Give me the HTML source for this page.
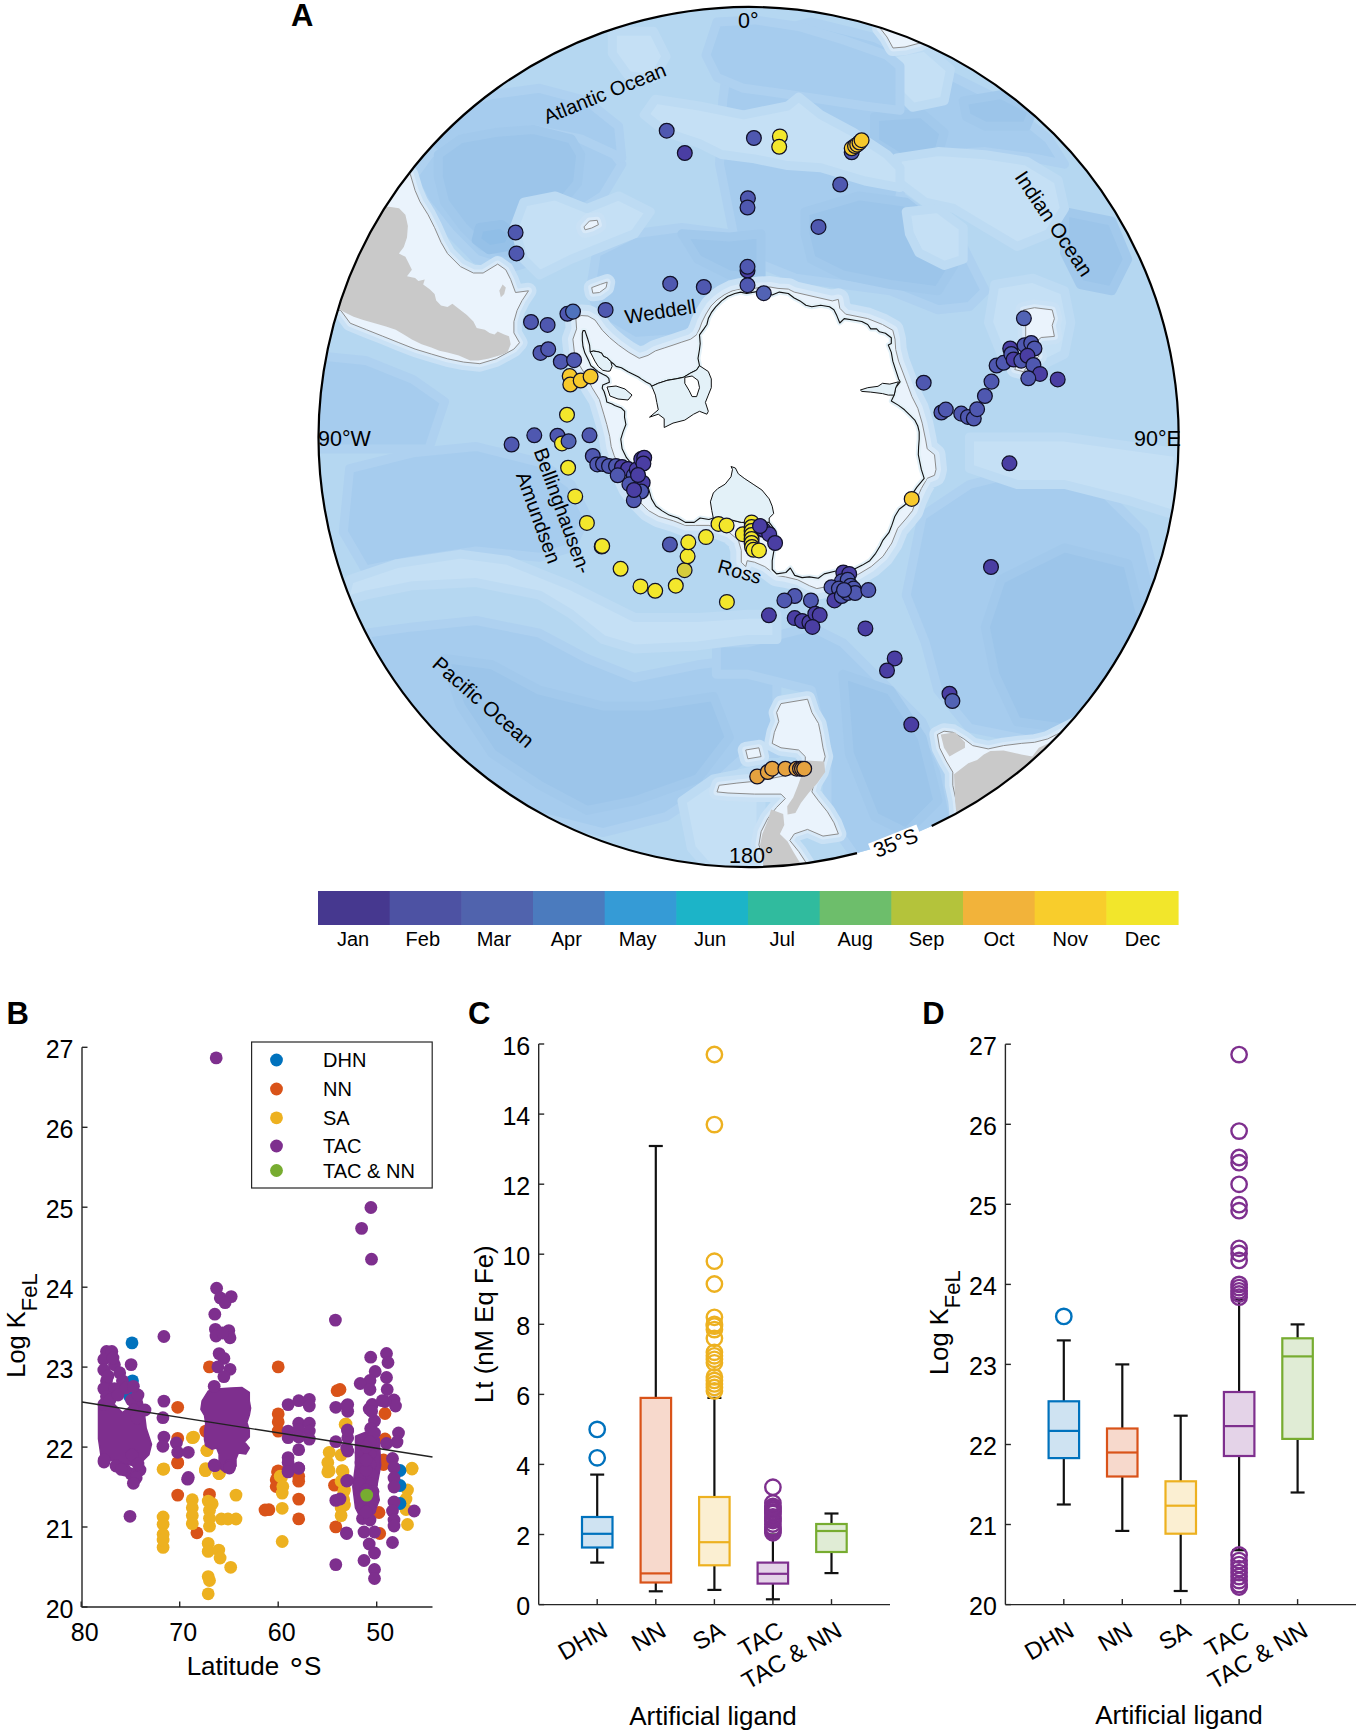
<!DOCTYPE html><html><head><meta charset="utf-8"><title>Figure</title><style>html,body{margin:0;padding:0;background:#fff;}svg{display:block;}text{font-family:'Liberation Sans', Arial, Helvetica, sans-serif;}</style></head><body>
<svg width="1359" height="1733" viewBox="0 0 1359 1733">
<rect width="1359" height="1733" fill="#fff"/>
<defs><clipPath id="mc"><circle cx="748.6" cy="437.0" r="430.0"/></clipPath></defs>
<g clip-path="url(#mc)">
<rect x="300" y="0" width="900" height="880" fill="#b5d7f1"/>
<path d="M412.9 176.9 L438.3 142.1 L476.2 126.3 L523.7 113.6 L571.2 119.9 L602.8 138.9 L621.8 164.2 L602.8 195.9 L577.5 211.7 L558.5 233.8 L539.5 259.2 L507.9 268.7 L476.2 259.2 L450.9 233.8 L425.6 202.2 Z" fill="#a6ccee" stroke="#aed1f0" stroke-width="9" stroke-linejoin="round"/>
<path d="M596.5 252.8 L634.5 233.8 L681.9 227.5 L729.4 233.8 L748.1 227.5 L761.0 227.5 L761.0 306.6 L713.6 316.1 L681.9 338.3 L634.5 341.4 L602.8 322.5 L590.2 290.8 Z" fill="#a6ccee" stroke="#aed1f0" stroke-width="9" stroke-linejoin="round"/>
<path d="M729.0 53.5 L748.0 37.6 L811.3 21.8 L874.6 37.6 L937.9 69.3 L1001.2 100.9 L1048.6 138.9 L1064.5 164.2 L1032.8 157.9 L985.3 151.6 L937.9 154.7 L906.2 170.6 L899.9 195.9 L922.1 211.7 L953.7 227.5 L969.5 259.2 L985.3 290.8 L969.5 306.6 L937.9 309.8 L890.4 290.8 L842.9 284.5 L795.5 278.2 L763.8 265.5 L735.3 243.3 L719.5 164.2 L722.7 100.9 Z" fill="#a6ccee" stroke="#aed1f0" stroke-width="9" stroke-linejoin="round"/>
<path d="M349.6 468.6 L412.9 452.8 L476.2 446.5 L539.5 462.3 L571.2 484.5 L587.0 516.1 L571.2 547.8 L539.5 557.3 L476.2 550.9 L412.9 560.4 L365.5 569.9 L343.3 531.9 Z" fill="#a6ccee" stroke="#aed1f0" stroke-width="9" stroke-linejoin="round"/>
<path d="M365.5 633.2 L412.9 626.9 L476.2 620.5 L539.5 633.2 L587.0 658.5 L634.5 677.5 L697.7 664.8 L748.1 658.5 L776.9 658.5 L776.9 753.5 L748.1 753.5 L713.6 785.1 L666.1 816.7 L602.8 832.6 L539.5 816.7 L476.2 785.1 L428.8 737.6 L387.6 690.2 Z" fill="#a6ccee" stroke="#aed1f0" stroke-width="9" stroke-linejoin="round"/>
<path d="M922.1 516.1 L969.5 484.5 L1032.8 468.6 L1096.1 484.5 L1143.6 531.9 L1159.4 595.2 L1143.6 674.3 L1096.1 721.8 L1032.8 740.8 L969.5 728.1 L937.9 690.2 L925.2 642.7 L906.2 595.2 Z" fill="#a6ccee" stroke="#aed1f0" stroke-width="9" stroke-linejoin="round"/>
<path d="M716.4 642.7 L748.0 642.7 L811.3 626.9 L842.9 642.7 L874.6 674.3 L922.1 721.8 L944.2 769.3 L953.7 816.7 L937.9 848.4 L858.8 861.1 L827.1 816.7 L827.1 753.5 L811.3 690.2 L748.0 674.3 L716.4 674.3 Z" fill="#a6ccee" stroke="#aed1f0" stroke-width="9" stroke-linejoin="round"/>
<path d="M412.9 138.9 L444.6 110.4 L492.1 94.6 L539.5 88.3 L587.0 100.9 L618.6 126.3 L621.8 157.9 L580.7 138.9 L533.2 129.4 L460.4 138.9 L438.3 154.7 Z" fill="#a6ccee" stroke="#aed1f0" stroke-width="9" stroke-linejoin="round"/>
<path d="M302.2 354.1 L365.5 360.4 L412.9 379.4 L444.6 401.6 L428.8 449.0 L302.2 449.0 Z" fill="#a6ccee" stroke="#aed1f0" stroke-width="9" stroke-linejoin="round"/>
<path d="M438.3 154.7 L460.4 138.9 L495.2 132.6 L533.2 129.4 L571.2 138.9 L580.7 154.7 L577.5 183.2 L561.7 202.2 L545.8 224.4 L533.2 246.5 L507.9 252.8 L482.6 246.5 L463.6 227.5 L444.6 202.2 L438.3 176.9 Z" fill="#9cc5ea" stroke="#a2c9ec" stroke-width="9" stroke-linejoin="round"/>
<path d="M681.9 233.8 L729.4 237.0 L761.0 233.8 L761.0 278.2 L729.4 275.0 L697.7 259.2 Z" fill="#9cc5ea" stroke="#a2c9ec" stroke-width="9" stroke-linejoin="round"/>
<path d="M805.0 211.7 L858.8 195.9 L906.2 202.2 L937.9 227.5 L953.7 265.5 L937.9 290.8 L890.4 284.5 L842.9 275.0 L811.3 259.2 L805.0 233.8 Z" fill="#9cc5ea" stroke="#a2c9ec" stroke-width="9" stroke-linejoin="round"/>
<path d="M874.6 116.8 L922.1 113.6 L944.2 132.6 L937.9 154.7 L899.9 157.9 L874.6 142.1 Z" fill="#9cc5ea" stroke="#a2c9ec" stroke-width="9" stroke-linejoin="round"/>
<path d="M963.2 100.9 L1001.2 94.6 L1032.8 110.4 L1026.5 126.3 L985.3 126.3 L966.4 116.8 Z" fill="#9cc5ea" stroke="#a2c9ec" stroke-width="9" stroke-linejoin="round"/>
<path d="M1064.5 211.7 L1111.9 221.2 L1127.7 259.2 L1111.9 290.8 L1080.3 284.5 L1064.5 252.8 Z" fill="#9cc5ea" stroke="#a2c9ec" stroke-width="9" stroke-linejoin="round"/>
<path d="M444.6 658.5 L492.1 664.8 L539.5 690.2 L602.8 706.0 L650.3 706.0 L713.6 696.5 L729.4 737.6 L697.7 778.8 L634.5 800.9 L587.0 810.4 L539.5 785.1 L492.1 753.5 L460.4 706.0 Z" fill="#9cc5ea" stroke="#a2c9ec" stroke-width="9" stroke-linejoin="round"/>
<path d="M1001.2 579.4 L1064.5 547.8 L1127.7 563.6 L1143.6 626.9 L1111.9 690.2 L1064.5 728.1 L1017.0 721.8 L994.8 674.3 L985.3 626.9 Z" fill="#9cc5ea" stroke="#a2c9ec" stroke-width="9" stroke-linejoin="round"/>
<path d="M842.9 674.3 L890.4 690.2 L922.1 737.6 L937.9 800.9 L906.2 832.6 L874.6 816.7 L849.3 753.5 Z" fill="#9cc5ea" stroke="#a2c9ec" stroke-width="9" stroke-linejoin="round"/>
<path d="M479.4 227.5 L501.5 224.4 L514.2 233.8 L507.9 246.5 L488.9 249.7 L476.2 240.2 Z" fill="#90bee7" stroke="#96c1e8" stroke-width="9" stroke-linejoin="round"/>
<path d="M523.7 202.2 L555.3 195.9 L587.0 208.5 L618.6 195.9 L650.3 211.7 L634.5 233.8 L602.8 246.5 L571.2 259.2 L539.5 275.0 L523.7 259.2 L514.2 227.5 Z" fill="#c5e0f5" stroke="#bddbf3" stroke-width="9" stroke-linejoin="round"/>
<path d="M612.3 31.3 L653.4 31.3 L666.1 56.6 L653.4 78.8 L628.1 75.6 L612.3 53.5 Z" fill="#c5e0f5" stroke="#bddbf3" stroke-width="9" stroke-linejoin="round"/>
<path d="M896.7 157.9 L937.9 151.6 L985.3 154.7 L1026.5 161.1 L1058.1 180.1 L1064.5 208.5 L1048.6 233.8 L1017.0 246.5 L985.3 227.5 L953.7 208.5 L925.2 202.2 L899.9 183.2 Z" fill="#c5e0f5" stroke="#bddbf3" stroke-width="9" stroke-linejoin="round"/>
<path d="M906.2 211.7 L937.9 208.5 L963.2 227.5 L963.2 259.2 L944.2 265.5 L918.9 252.8 L909.4 233.8 Z" fill="#c5e0f5" stroke="#bddbf3" stroke-width="9" stroke-linejoin="round"/>
<path d="M890.4 53.5 L925.2 47.1 L950.5 69.3 L944.2 100.9 L912.6 107.3 L893.6 88.3 Z" fill="#c5e0f5" stroke="#bddbf3" stroke-width="9" stroke-linejoin="round"/>
<path d="M994.8 284.5 L1032.8 278.2 L1064.5 290.8 L1070.8 322.5 L1064.5 354.1 L1032.8 369.9 L1001.2 354.1 L988.5 322.5 Z" fill="#c5e0f5" stroke="#bddbf3" stroke-width="9" stroke-linejoin="round"/>
<path d="M349.6 579.4 L397.1 563.6 L460.4 554.1 L507.9 560.4 L539.5 573.1 L571.2 585.7 L602.8 601.6 L634.5 617.4 L697.7 617.4 L748.1 614.2 L776.9 614.2 L776.9 639.5 L748.1 639.5 L697.7 645.9 L634.5 649.0 L602.8 639.5 L571.2 614.2 L539.5 595.2 L476.2 582.6 L412.9 585.7 L365.5 595.2 L343.3 601.6 Z" fill="#c5e0f5" stroke="#bddbf3" stroke-width="9" stroke-linejoin="round"/>
<path d="M969.5 437.0 L1064.5 437.0 L1178.1 452.8 L1178.1 516.1 L1127.7 500.3 L1064.5 484.5 L1017.0 484.5 L969.5 468.6 Z" fill="#c5e0f5" stroke="#bddbf3" stroke-width="9" stroke-linejoin="round"/>
<path d="M681.9 800.9 L713.6 778.8 L761.0 769.3 L761.0 880.0 L713.6 873.7 L691.4 848.4 Z" fill="#c5e0f5" stroke="#bddbf3" stroke-width="9" stroke-linejoin="round"/>
<path d="M717.0 22.0 L754.5 19.9 L798.7 26.5 L842.8 39.7 L887.0 55.2 L900.0 66.2 L900.0 110.4 L864.9 106.0 L820.8 99.3 L776.6 92.7 L743.5 88.3 L717.0 77.3 L706.0 55.2 Z" fill="#a6ccee" stroke="#aed1f0" stroke-width="9" stroke-linejoin="round"/>
<path d="M655.2 99.3 L699.3 106.0 L743.5 114.8 L787.6 106.0 L798.7 97.1 L820.8 114.8 L853.9 132.5 L887.0 154.5 L900.0 167.8 L900.0 187.6 L864.9 181.0 L820.8 167.8 L787.6 165.6 L754.5 158.9 L721.4 154.5 L699.3 143.5 L666.2 132.5 L644.2 114.8 Z" fill="#c5e0f5" stroke="#bddbf3" stroke-width="9" stroke-linejoin="round"/>
<path d="M408.0 172.0 L410.3 174.3 L415.1 190.5 L420.0 201.8 L428.1 214.8 L434.6 227.7 L441.0 242.3 L447.5 253.6 L460.5 266.6 L473.4 273.0 L483.1 273.0 L497.7 264.1 L505.8 269.8 L510.7 279.5 L515.5 292.5 L528.5 290.8 L522.0 300.6 L517.1 310.3 L513.9 321.6 L513.9 332.9 L519.5 342.7 L513.9 349.1 L496.1 358.8 L479.9 363.7 L463.7 362.1 L447.5 358.8 L431.3 354.0 L415.1 349.1 L398.9 342.7 L382.7 336.2 L366.4 329.7 L350.2 323.2 L340.7 310.3 L320.0 310.0 L300.0 320.0 L300.0 172.0 Z" fill="#eaf3fc" stroke="#c9e1f5" stroke-width="16" stroke-linejoin="round"/>
<path d="M408.0 172.0 L410.3 174.3 L415.1 190.5 L420.0 201.8 L428.1 214.8 L434.6 227.7 L441.0 242.3 L447.5 253.6 L460.5 266.6 L473.4 273.0 L483.1 273.0 L497.7 264.1 L505.8 269.8 L510.7 279.5 L515.5 292.5 L528.5 290.8 L522.0 300.6 L517.1 310.3 L513.9 321.6 L513.9 332.9 L519.5 342.7 L513.9 349.1 L496.1 358.8 L479.9 363.7 L463.7 362.1 L447.5 358.8 L431.3 354.0 L415.1 349.1 L398.9 342.7 L382.7 336.2 L366.4 329.7 L350.2 323.2 L340.7 310.3 L320.0 310.0 L300.0 320.0 L300.0 172.0 Z" fill="#eaf3fc" stroke="#d8e9f8" stroke-width="7" stroke-linejoin="round"/>
<path d="M781.0 703.6 L807.5 699.2 L811.9 712.5 L818.5 723.5 L820.8 734.5 L823.0 747.8 L825.2 756.6 L820.8 772.1 L814.1 783.1 L811.9 791.9 L818.5 800.8 L827.4 811.8 L834.0 822.8 L838.4 833.9 L823.0 836.1 L807.5 829.4 L794.3 833.9 L789.8 840.5 L798.7 851.5 L807.5 864.8 L811.9 889.1 L767.8 889.1 L763.4 858.1 L758.9 844.9 L761.1 831.7 L767.8 818.4 L776.6 807.4 L785.4 798.5 L781.0 794.1 L754.5 794.1 L728.0 793.0 L717.0 791.9 L719.2 785.3 L736.9 783.1 L758.9 780.9 L781.0 776.5 L794.3 774.3 L805.3 769.8 L805.3 756.6 L798.7 750.0 L781.0 747.8 L772.2 743.4 L774.4 732.3 L778.8 721.3 L776.6 712.5 Z" fill="#eaf3fc" stroke="#c9e1f5" stroke-width="16" stroke-linejoin="round"/>
<path d="M781.0 703.6 L807.5 699.2 L811.9 712.5 L818.5 723.5 L820.8 734.5 L823.0 747.8 L825.2 756.6 L820.8 772.1 L814.1 783.1 L811.9 791.9 L818.5 800.8 L827.4 811.8 L834.0 822.8 L838.4 833.9 L823.0 836.1 L807.5 829.4 L794.3 833.9 L789.8 840.5 L798.7 851.5 L807.5 864.8 L811.9 889.1 L767.8 889.1 L763.4 858.1 L758.9 844.9 L761.1 831.7 L767.8 818.4 L776.6 807.4 L785.4 798.5 L781.0 794.1 L754.5 794.1 L728.0 793.0 L717.0 791.9 L719.2 785.3 L736.9 783.1 L758.9 780.9 L781.0 776.5 L794.3 774.3 L805.3 769.8 L805.3 756.6 L798.7 750.0 L781.0 747.8 L772.2 743.4 L774.4 732.3 L778.8 721.3 L776.6 712.5 Z" fill="#eaf3fc" stroke="#d8e9f8" stroke-width="7" stroke-linejoin="round"/>
<path d="M745.7 750.0 L758.9 747.8 L761.1 756.6 L747.9 758.8 Z" fill="#eaf3fc" stroke="#c9e1f5" stroke-width="16" stroke-linejoin="round"/>
<path d="M745.7 750.0 L758.9 747.8 L761.1 756.6 L747.9 758.8 Z" fill="#eaf3fc" stroke="#d8e9f8" stroke-width="7" stroke-linejoin="round"/>
<path d="M937.4 734.5 L944.0 731.2 L952.8 732.3 L963.9 738.9 L972.7 745.6 L988.2 748.9 L1003.6 745.6 L1021.3 743.4 L1034.5 742.3 L1047.8 738.9 L1056.6 734.5 L1100.8 712.5 L1100.8 867.0 L957.3 867.0 L957.3 811.8 L956.2 800.8 L952.8 785.3 L952.8 772.1 L946.2 761.0 L939.6 747.8 Z" fill="#eaf3fc" stroke="#c9e1f5" stroke-width="16" stroke-linejoin="round"/>
<path d="M937.4 734.5 L944.0 731.2 L952.8 732.3 L963.9 738.9 L972.7 745.6 L988.2 748.9 L1003.6 745.6 L1021.3 743.4 L1034.5 742.3 L1047.8 738.9 L1056.6 734.5 L1100.8 712.5 L1100.8 867.0 L957.3 867.0 L957.3 811.8 L956.2 800.8 L952.8 785.3 L952.8 772.1 L946.2 761.0 L939.6 747.8 Z" fill="#eaf3fc" stroke="#d8e9f8" stroke-width="7" stroke-linejoin="round"/>
<path d="M880.0 28.0 L887.0 37.0 L893.0 48.0 L905.0 47.0 L920.0 43.0 L925.0 40.0 L925.0 20.0 L880.0 20.0 Z" fill="#eaf3fc" stroke="#c9e1f5" stroke-width="16" stroke-linejoin="round"/>
<path d="M880.0 28.0 L887.0 37.0 L893.0 48.0 L905.0 47.0 L920.0 43.0 L925.0 40.0 L925.0 20.0 L880.0 20.0 Z" fill="#eaf3fc" stroke="#d8e9f8" stroke-width="7" stroke-linejoin="round"/>
<path d="M1023.5 309.9 L1034.5 307.7 L1052.2 309.9 L1054.4 318.7 L1052.2 325.3 L1054.4 336.4 L1041.2 337.5 L1034.5 343.0 L1039.0 356.2 L1028.0 365.1 L1023.5 371.7 L1014.7 369.5 L1025.7 347.4 L1025.7 323.1 Z" fill="#eaf3fc" stroke="#c9e1f5" stroke-width="16" stroke-linejoin="round"/>
<path d="M1023.5 309.9 L1034.5 307.7 L1052.2 309.9 L1054.4 318.7 L1052.2 325.3 L1054.4 336.4 L1041.2 337.5 L1034.5 343.0 L1039.0 356.2 L1028.0 365.1 L1023.5 371.7 L1014.7 369.5 L1025.7 347.4 L1025.7 323.1 Z" fill="#eaf3fc" stroke="#d8e9f8" stroke-width="7" stroke-linejoin="round"/>
<path d="M584.0 226.9 L589.5 221.0 L597.2 220.3 L598.4 224.7 L591.7 228.0 L585.1 229.8 Z" fill="#eaf3fc" stroke="#c9e1f5" stroke-width="16" stroke-linejoin="round"/>
<path d="M584.0 226.9 L589.5 221.0 L597.2 220.3 L598.4 224.7 L591.7 228.0 L585.1 229.8 Z" fill="#eaf3fc" stroke="#d8e9f8" stroke-width="7" stroke-linejoin="round"/>
<path d="M591.7 287.6 L600.6 284.3 L607.2 282.1 L606.1 287.6 L599.5 292.5 L592.8 293.2 Z" fill="#eaf3fc" stroke="#c9e1f5" stroke-width="16" stroke-linejoin="round"/>
<path d="M591.7 287.6 L600.6 284.3 L607.2 282.1 L606.1 287.6 L599.5 292.5 L592.8 293.2 Z" fill="#eaf3fc" stroke="#d8e9f8" stroke-width="7" stroke-linejoin="round"/>
<path d="M408.0 172.0 L410.3 174.3 L415.1 190.5 L420.0 201.8 L428.1 214.8 L434.6 227.7 L441.0 242.3 L447.5 253.6 L460.5 266.6 L473.4 273.0 L483.1 273.0 L497.7 264.1 L505.8 269.8 L510.7 279.5 L515.5 292.5 L528.5 290.8 L522.0 300.6 L517.1 310.3 L513.9 321.6 L513.9 332.9 L519.5 342.7 L513.9 349.1 L496.1 358.8 L479.9 363.7 L463.7 362.1 L447.5 358.8 L431.3 354.0 L415.1 349.1 L398.9 342.7 L382.7 336.2 L366.4 329.7 L350.2 323.2 L340.7 310.3 L320.0 310.0 L300.0 320.0 L300.0 172.0 Z" fill="#eaf3fc" stroke="#8c8c8c" stroke-width="1"/>
<path d="M781.0 703.6 L807.5 699.2 L811.9 712.5 L818.5 723.5 L820.8 734.5 L823.0 747.8 L825.2 756.6 L820.8 772.1 L814.1 783.1 L811.9 791.9 L818.5 800.8 L827.4 811.8 L834.0 822.8 L838.4 833.9 L823.0 836.1 L807.5 829.4 L794.3 833.9 L789.8 840.5 L798.7 851.5 L807.5 864.8 L811.9 889.1 L767.8 889.1 L763.4 858.1 L758.9 844.9 L761.1 831.7 L767.8 818.4 L776.6 807.4 L785.4 798.5 L781.0 794.1 L754.5 794.1 L728.0 793.0 L717.0 791.9 L719.2 785.3 L736.9 783.1 L758.9 780.9 L781.0 776.5 L794.3 774.3 L805.3 769.8 L805.3 756.6 L798.7 750.0 L781.0 747.8 L772.2 743.4 L774.4 732.3 L778.8 721.3 L776.6 712.5 Z" fill="#eaf3fc" stroke="#8c8c8c" stroke-width="1"/>
<path d="M745.7 750.0 L758.9 747.8 L761.1 756.6 L747.9 758.8 Z" fill="#eaf3fc" stroke="#8c8c8c" stroke-width="1"/>
<path d="M937.4 734.5 L944.0 731.2 L952.8 732.3 L963.9 738.9 L972.7 745.6 L988.2 748.9 L1003.6 745.6 L1021.3 743.4 L1034.5 742.3 L1047.8 738.9 L1056.6 734.5 L1100.8 712.5 L1100.8 867.0 L957.3 867.0 L957.3 811.8 L956.2 800.8 L952.8 785.3 L952.8 772.1 L946.2 761.0 L939.6 747.8 Z" fill="#eaf3fc" stroke="#8c8c8c" stroke-width="1"/>
<path d="M880.0 28.0 L887.0 37.0 L893.0 48.0 L905.0 47.0 L920.0 43.0 L925.0 40.0 L925.0 20.0 L880.0 20.0 Z" fill="#eaf3fc" stroke="#8c8c8c" stroke-width="1"/>
<path d="M1023.5 309.9 L1034.5 307.7 L1052.2 309.9 L1054.4 318.7 L1052.2 325.3 L1054.4 336.4 L1041.2 337.5 L1034.5 343.0 L1039.0 356.2 L1028.0 365.1 L1023.5 371.7 L1014.7 369.5 L1025.7 347.4 L1025.7 323.1 Z" fill="#eaf3fc" stroke="#8c8c8c" stroke-width="1"/>
<path d="M584.0 226.9 L589.5 221.0 L597.2 220.3 L598.4 224.7 L591.7 228.0 L585.1 229.8 Z" fill="#eaf3fc" stroke="#8c8c8c" stroke-width="1"/>
<path d="M591.7 287.6 L600.6 284.3 L607.2 282.1 L606.1 287.6 L599.5 292.5 L592.8 293.2 Z" fill="#eaf3fc" stroke="#8c8c8c" stroke-width="1"/>
<path d="M389.2 206.7 L399.0 208.3 L405.4 214.8 L407.9 226.1 L407.0 237.4 L403.8 247.1 L398.9 253.6 L405.4 256.8 L408.7 263.3 L411.9 269.8 L407.0 276.3 L415.1 277.9 L418.4 281.1 L424.8 279.5 L423.2 284.4 L429.7 289.2 L434.6 294.1 L436.2 300.6 L441.0 305.4 L447.5 307.0 L452.4 303.8 L458.8 308.7 L466.9 315.1 L473.4 321.6 L476.7 328.1 L484.8 329.7 L489.6 333.0 L494.5 334.6 L497.7 331.4 L504.2 334.6 L509.0 336.2 L510.7 344.3 L507.4 352.4 L499.3 355.6 L488.0 358.8 L478.3 360.5 L470.2 360.5 L458.8 355.6 L447.5 352.4 L439.4 350.7 L431.3 347.5 L421.6 344.3 L411.9 339.4 L403.8 334.6 L395.7 329.7 L386.0 326.5 L374.7 323.2 L363.3 320.0 L353.6 316.8 L343.9 311.9 L339.0 308.7 L300.0 308.0 L300.0 206.0 Z" fill="#c9c9c9"/>
<path d="M499.3 290.8 L502.6 284.4 L505.8 287.6 L504.2 294.1 L500.9 297.3 Z" fill="#c9c9c9"/>
<path d="M805.3 760.6 L824.1 761.5 L825.2 772.1 L817.4 783.1 L808.6 793.0 L800.9 803.0 L795.4 812.9 L787.6 814.4 L787.2 806.3 L793.2 797.4 L797.6 786.4 L802.0 774.3 L804.2 766.5 Z" fill="#c9c9c9"/>
<path d="M771.1 809.6 L783.2 814.0 L784.3 825.0 L779.9 833.9 L787.6 841.6 L793.2 851.5 L799.8 862.6 L798.7 889.1 L767.8 889.1 L762.3 858.1 L760.0 844.9 L762.3 833.9 L767.8 820.6 Z" fill="#c9c9c9"/>
<path d="M940.7 734.5 L955.1 732.3 L965.0 742.3 L965.0 747.8 L955.1 753.3 L949.5 756.6 L944.0 747.8 Z" fill="#c9c9c9"/>
<path d="M954.0 774.3 L968.3 763.2 L977.1 759.9 L983.8 754.4 L990.4 751.1 L1003.6 750.4 L1021.3 754.4 L1032.3 756.6 L1038.9 747.8 L1067.6 734.5 L1100.8 734.5 L1100.8 867.0 L958.4 867.0 L956.2 811.8 L955.1 800.8 Z" fill="#c9c9c9"/>
<path d="M575.9 318.6 L581.0 315.5 L588.0 316.0 L595.0 320.0 L602.4 330.3 L609.7 337.7 L618.6 345.1 L628.9 352.4 L639.2 358.3 L648.0 355.4 L655.4 350.9 L664.2 348.0 L673.0 345.1 L681.8 342.1 L690.7 339.2 L696.6 334.8 L699.5 329.0 L702.0 322.0 L706.0 314.0 L711.0 306.0 L717.0 300.0 L724.0 295.0 L732.0 291.0 L741.0 289.0 L750.0 289.0 L760.0 287.5 L770.0 287.0 L778.0 288.4 L788.3 289.1 L794.2 292.1 L832.4 300.9 L838.3 299.4 L839.8 308.3 L845.7 314.2 L853.0 315.6 L867.7 318.6 L882.5 324.5 L892.8 330.3 L895.0 339.2 L895.7 349.5 L898.6 361.2 L903.1 373.0 L907.5 384.8 L911.9 396.6 L917.8 408.3 L922.2 423.1 L925.7 440.0 L927.2 448.8 L934.5 454.7 L936.0 469.4 L934.5 475.3 L927.2 478.3 L921.3 488.6 L915.4 501.8 L912.5 510.6 L906.6 518.0 L897.7 528.3 L891.8 543.0 L883.0 556.3 L871.2 566.6 L856.5 575.4 L844.8 581.3 L831.5 585.7 L816.8 588.6 L809.4 585.7 L797.7 579.8 L785.4 576.9 L776.6 575.5 L764.8 566.6 L754.5 562.2 L747.2 560.7 L745.7 566.6 L741.3 562.2 L741.3 550.4 L738.3 540.1 L729.5 532.7 L717.7 528.3 L708.9 525.4 L695.7 525.4 L685.4 525.4 L673.6 520.9 L658.9 516.5 L648.6 510.6 L639.7 501.8 L629.4 488.6 L619.1 466.5 L614.1 455.4 L611.2 446.6 L609.7 436.3 L606.8 424.5 L603.8 414.2 L599.4 399.5 L592.1 387.7 L586.2 376.0 L578.8 364.2 L574.4 352.4 L572.9 339.2 L576.6 328.9 Z" fill="#eaf3fc" stroke="#c9e1f5" stroke-width="22" stroke-linejoin="round"/>
<path d="M575.9 318.6 L581.0 315.5 L588.0 316.0 L595.0 320.0 L602.4 330.3 L609.7 337.7 L618.6 345.1 L628.9 352.4 L639.2 358.3 L648.0 355.4 L655.4 350.9 L664.2 348.0 L673.0 345.1 L681.8 342.1 L690.7 339.2 L696.6 334.8 L699.5 329.0 L702.0 322.0 L706.0 314.0 L711.0 306.0 L717.0 300.0 L724.0 295.0 L732.0 291.0 L741.0 289.0 L750.0 289.0 L760.0 287.5 L770.0 287.0 L778.0 288.4 L788.3 289.1 L794.2 292.1 L832.4 300.9 L838.3 299.4 L839.8 308.3 L845.7 314.2 L853.0 315.6 L867.7 318.6 L882.5 324.5 L892.8 330.3 L895.0 339.2 L895.7 349.5 L898.6 361.2 L903.1 373.0 L907.5 384.8 L911.9 396.6 L917.8 408.3 L922.2 423.1 L925.7 440.0 L927.2 448.8 L934.5 454.7 L936.0 469.4 L934.5 475.3 L927.2 478.3 L921.3 488.6 L915.4 501.8 L912.5 510.6 L906.6 518.0 L897.7 528.3 L891.8 543.0 L883.0 556.3 L871.2 566.6 L856.5 575.4 L844.8 581.3 L831.5 585.7 L816.8 588.6 L809.4 585.7 L797.7 579.8 L785.4 576.9 L776.6 575.5 L764.8 566.6 L754.5 562.2 L747.2 560.7 L745.7 566.6 L741.3 562.2 L741.3 550.4 L738.3 540.1 L729.5 532.7 L717.7 528.3 L708.9 525.4 L695.7 525.4 L685.4 525.4 L673.6 520.9 L658.9 516.5 L648.6 510.6 L639.7 501.8 L629.4 488.6 L619.1 466.5 L614.1 455.4 L611.2 446.6 L609.7 436.3 L606.8 424.5 L603.8 414.2 L599.4 399.5 L592.1 387.7 L586.2 376.0 L578.8 364.2 L574.4 352.4 L572.9 339.2 L576.6 328.9 Z" fill="#eaf3fc" stroke="#d8e9f8" stroke-width="10" stroke-linejoin="round"/>
<path d="M575.9 318.6 L581.0 315.5 L588.0 316.0 L595.0 320.0 L602.4 330.3 L609.7 337.7 L618.6 345.1 L628.9 352.4 L639.2 358.3 L648.0 355.4 L655.4 350.9 L664.2 348.0 L673.0 345.1 L681.8 342.1 L690.7 339.2 L696.6 334.8 L699.5 329.0 L702.0 322.0 L706.0 314.0 L711.0 306.0 L717.0 300.0 L724.0 295.0 L732.0 291.0 L741.0 289.0 L750.0 289.0 L760.0 287.5 L770.0 287.0 L778.0 288.4 L788.3 289.1 L794.2 292.1 L832.4 300.9 L838.3 299.4 L839.8 308.3 L845.7 314.2 L853.0 315.6 L867.7 318.6 L882.5 324.5 L892.8 330.3 L895.0 339.2 L895.7 349.5 L898.6 361.2 L903.1 373.0 L907.5 384.8 L911.9 396.6 L917.8 408.3 L922.2 423.1 L925.7 440.0 L927.2 448.8 L934.5 454.7 L936.0 469.4 L934.5 475.3 L927.2 478.3 L921.3 488.6 L915.4 501.8 L912.5 510.6 L906.6 518.0 L897.7 528.3 L891.8 543.0 L883.0 556.3 L871.2 566.6 L856.5 575.4 L844.8 581.3 L831.5 585.7 L816.8 588.6 L809.4 585.7 L797.7 579.8 L785.4 576.9 L776.6 575.5 L764.8 566.6 L754.5 562.2 L747.2 560.7 L745.7 566.6 L741.3 562.2 L741.3 550.4 L738.3 540.1 L729.5 532.7 L717.7 528.3 L708.9 525.4 L695.7 525.4 L685.4 525.4 L673.6 520.9 L658.9 516.5 L648.6 510.6 L639.7 501.8 L629.4 488.6 L619.1 466.5 L614.1 455.4 L611.2 446.6 L609.7 436.3 L606.8 424.5 L603.8 414.2 L599.4 399.5 L592.1 387.7 L586.2 376.0 L578.8 364.2 L574.4 352.4 L572.9 339.2 L576.6 328.9 Z" fill="#eaf3fc" stroke="#8c8c8c" stroke-width="1"/>
<path d="M583.0 330.6 L584.9 330.6 L587.6 338.5 L589.6 345.2 L590.2 351.8 L593.5 351.1 L598.2 351.8 L601.5 353.1 L603.5 356.4 L606.8 357.7 L610.8 361.7 L613.4 363.7 L616.1 366.4 L621.4 367.7 L628.0 371.7 L634.6 375.0 L638.6 377.0 L641.2 378.9 L646.5 382.3 L650.5 384.2 L651.7 386.3 L658.3 383.3 L667.1 380.4 L676.0 378.9 L683.3 377.4 L690.7 373.0 L696.6 370.1 L699.5 365.7 L698.0 358.3 L699.5 349.5 L700.2 343.6 L699.5 334.8 L703.9 328.9 L706.9 324.5 L708.3 318.6 L711.3 312.7 L715.7 306.8 L721.6 300.9 L727.5 296.5 L734.8 293.5 L740.7 292.1 L746.6 293.5 L754.0 292.1 L761.3 290.6 L772.1 295.0 L779.4 292.1 L788.3 293.5 L794.2 298.0 L800.0 300.9 L805.9 305.3 L811.8 306.8 L820.6 305.3 L829.5 306.8 L833.9 309.7 L836.8 315.6 L839.8 323.0 L844.2 318.6 L853.0 320.0 L861.8 321.5 L867.7 324.5 L870.7 328.9 L876.6 328.9 L879.5 331.8 L885.4 333.3 L891.3 337.7 L891.3 343.6 L888.3 345.1 L891.3 352.4 L892.8 361.2 L895.7 370.1 L898.6 378.9 L900.1 381.8 L895.7 387.7 L894.2 395.1 L891.3 401.0 L898.6 405.4 L904.5 409.8 L910.4 415.7 L914.8 420.1 L917.8 426.0 L919.2 431.9 L919.2 439.2 L918.6 447.0 L918.3 454.7 L921.3 469.4 L924.2 478.3 L916.9 487.1 L911.0 495.9 L905.1 504.8 L899.2 509.2 L894.8 516.5 L891.8 525.4 L888.9 532.7 L883.0 540.1 L880.1 546.0 L875.7 553.3 L869.8 560.7 L862.4 565.1 L853.6 569.5 L846.2 569.5 L835.9 571.0 L824.2 573.9 L818.3 578.3 L809.4 576.9 L802.1 577.6 L794.7 575.4 L790.3 568.0 L785.9 572.5 L776.6 573.9 L772.2 569.5 L772.2 560.7 L773.7 551.8 L776.6 543.0 L776.6 535.7 L773.7 528.3 L769.2 522.4 L761.9 521.7 L747.2 522.4 L741.3 522.4 L732.5 520.2 L722.1 520.2 L713.3 518.0 L708.9 519.5 L700.1 518.0 L694.2 522.4 L685.4 522.4 L678.0 518.0 L669.2 515.1 L661.8 510.6 L655.9 506.2 L651.5 498.9 L648.6 488.6 L642.7 476.8 L633.8 466.5 L626.5 457.7 L622.1 448.8 L620.8 439.2 L623.0 431.9 L625.9 424.5 L624.5 417.2 L624.7 411.4 L621.4 408.1 L614.7 405.4 L612.1 404.1 L606.8 402.1 L606.1 398.1 L604.1 391.5 L602.2 388.2 L602.8 384.9 L609.4 382.3 L608.8 378.3 L606.8 376.3 L602.8 374.3 L598.2 371.7 L594.2 368.3 L590.9 365.7 L588.9 361.1 L586.9 357.1 L584.9 353.1 L583.0 346.5 L582.3 339.9 L582.3 333.2 Z" fill="#ffffff" stroke="#e3f1f8" stroke-width="5" stroke-linejoin="round"/>
<path d="M583.0 330.6 L584.9 330.6 L587.6 338.5 L589.6 345.2 L590.2 351.8 L593.5 351.1 L598.2 351.8 L601.5 353.1 L603.5 356.4 L606.8 357.7 L610.8 361.7 L613.4 363.7 L616.1 366.4 L621.4 367.7 L628.0 371.7 L634.6 375.0 L638.6 377.0 L641.2 378.9 L646.5 382.3 L650.5 384.2 L651.7 386.3 L658.3 383.3 L667.1 380.4 L676.0 378.9 L683.3 377.4 L690.7 373.0 L696.6 370.1 L699.5 365.7 L698.0 358.3 L699.5 349.5 L700.2 343.6 L699.5 334.8 L703.9 328.9 L706.9 324.5 L708.3 318.6 L711.3 312.7 L715.7 306.8 L721.6 300.9 L727.5 296.5 L734.8 293.5 L740.7 292.1 L746.6 293.5 L754.0 292.1 L761.3 290.6 L772.1 295.0 L779.4 292.1 L788.3 293.5 L794.2 298.0 L800.0 300.9 L805.9 305.3 L811.8 306.8 L820.6 305.3 L829.5 306.8 L833.9 309.7 L836.8 315.6 L839.8 323.0 L844.2 318.6 L853.0 320.0 L861.8 321.5 L867.7 324.5 L870.7 328.9 L876.6 328.9 L879.5 331.8 L885.4 333.3 L891.3 337.7 L891.3 343.6 L888.3 345.1 L891.3 352.4 L892.8 361.2 L895.7 370.1 L898.6 378.9 L900.1 381.8 L895.7 387.7 L894.2 395.1 L891.3 401.0 L898.6 405.4 L904.5 409.8 L910.4 415.7 L914.8 420.1 L917.8 426.0 L919.2 431.9 L919.2 439.2 L918.6 447.0 L918.3 454.7 L921.3 469.4 L924.2 478.3 L916.9 487.1 L911.0 495.9 L905.1 504.8 L899.2 509.2 L894.8 516.5 L891.8 525.4 L888.9 532.7 L883.0 540.1 L880.1 546.0 L875.7 553.3 L869.8 560.7 L862.4 565.1 L853.6 569.5 L846.2 569.5 L835.9 571.0 L824.2 573.9 L818.3 578.3 L809.4 576.9 L802.1 577.6 L794.7 575.4 L790.3 568.0 L785.9 572.5 L776.6 573.9 L772.2 569.5 L772.2 560.7 L773.7 551.8 L776.6 543.0 L776.6 535.7 L773.7 528.3 L769.2 522.4 L761.9 521.7 L747.2 522.4 L741.3 522.4 L732.5 520.2 L722.1 520.2 L713.3 518.0 L708.9 519.5 L700.1 518.0 L694.2 522.4 L685.4 522.4 L678.0 518.0 L669.2 515.1 L661.8 510.6 L655.9 506.2 L651.5 498.9 L648.6 488.6 L642.7 476.8 L633.8 466.5 L626.5 457.7 L622.1 448.8 L620.8 439.2 L623.0 431.9 L625.9 424.5 L624.5 417.2 L624.7 411.4 L621.4 408.1 L614.7 405.4 L612.1 404.1 L606.8 402.1 L606.1 398.1 L604.1 391.5 L602.2 388.2 L602.8 384.9 L609.4 382.3 L608.8 378.3 L606.8 376.3 L602.8 374.3 L598.2 371.7 L594.2 368.3 L590.9 365.7 L588.9 361.1 L586.9 357.1 L584.9 353.1 L583.0 346.5 L582.3 339.9 L582.3 333.2 Z" fill="none" stroke="#111" stroke-width="1.1" stroke-linejoin="round"/>
<path d="M651.7 386.3 L658.3 383.3 L667.1 380.4 L676.0 378.9 L683.3 377.4 L690.7 373.0 L696.6 370.1 L699.5 365.7 L708.3 371.5 L711.3 378.9 L711.3 387.7 L708.3 395.1 L705.4 402.4 L708.3 411.3 L706.9 414.2 L699.5 411.3 L693.6 414.2 L684.8 420.1 L673.0 423.1 L664.2 427.5 L664.2 418.6 L658.3 414.2 L649.5 417.2 L658.3 409.8 L656.8 402.4 L655.4 395.1 L652.4 387.7 Z" fill="#e3f1f8" stroke="#111" stroke-width="1" stroke-linejoin="round"/>
<path d="M769.2 522.4 L761.9 521.7 L747.2 522.4 L741.3 522.4 L732.5 520.2 L722.1 520.2 L713.3 518.0 L711.8 510.6 L710.4 501.8 L713.3 493.0 L717.7 488.6 L725.1 484.2 L731.0 476.8 L732.5 469.4 L731.0 466.5 L735.4 468.0 L738.3 473.8 L744.2 478.3 L753.1 484.2 L761.9 490.0 L769.2 498.9 L772.2 506.2 L773.7 513.6 L769.2 518.0 Z" fill="#e3f1f8" stroke="#111" stroke-width="1" stroke-linejoin="round"/>
<path d="M860.4 390.0 L867.7 387.7 L878.0 386.3 L882.5 383.3 L889.8 384.1 L898.6 381.8 L895.7 387.7 L894.2 395.1 L888.3 395.1 L882.5 393.6 L870.7 392.1 L861.8 391.4 Z" fill="#e3f1f8" stroke="#111" stroke-width="1" stroke-linejoin="round"/>
<path d="M590.2 351.8 L593.5 351.1 L598.2 351.8 L601.5 353.1 L603.5 356.4 L606.8 357.7 L610.8 361.7 L612.1 366.4 L610.1 371.0 L607.8 371.3 L602.8 370.3 L598.2 366.4 L594.9 361.1 L592.9 357.1 Z" fill="#e3f1f8" stroke="#111" stroke-width="1" stroke-linejoin="round"/>
<path d="M607.0 387.0 L616.0 386.0 L625.0 389.0 L632.0 395.0 L628.0 400.0 L618.0 399.0 L610.0 396.0 Z" fill="#e3f1f8" stroke="#111" stroke-width="1" stroke-linejoin="round"/>
<path d="M684.8 377.4 L692.1 376.0 L698.0 380.4 L699.5 387.7 L696.6 396.6 L692.1 396.6 L689.2 390.7 L684.8 383.3 Z" fill="#ffffff" stroke="#111" stroke-width="1"/>
<circle cx="666.7" cy="130.7" r="7.4" fill="#4f58b0" stroke="#111128" stroke-width="1.25"/>
<circle cx="684.8" cy="153.0" r="7.4" fill="#4a3ea3" stroke="#111128" stroke-width="1.25"/>
<circle cx="753.9" cy="138.0" r="7.4" fill="#4f58b0" stroke="#111128" stroke-width="1.25"/>
<circle cx="779.9" cy="136.4" r="7.4" fill="#f3e72c" stroke="#111128" stroke-width="1.25"/>
<circle cx="779.2" cy="146.8" r="7.4" fill="#f3e72c" stroke="#111128" stroke-width="1.25"/>
<circle cx="851.7" cy="152.3" r="7.4" fill="#4f58b0" stroke="#111128" stroke-width="1.25"/>
<circle cx="851.7" cy="148.3" r="7.4" fill="#f7c92c" stroke="#111128" stroke-width="1.25"/>
<circle cx="855.0" cy="146.0" r="7.4" fill="#f7c92c" stroke="#111128" stroke-width="1.25"/>
<circle cx="857.2" cy="144.6" r="7.4" fill="#f7c92c" stroke="#111128" stroke-width="1.25"/>
<circle cx="859.5" cy="142.5" r="7.4" fill="#f7c92c" stroke="#111128" stroke-width="1.25"/>
<circle cx="861.6" cy="140.2" r="7.4" fill="#f7c92c" stroke="#111128" stroke-width="1.25"/>
<circle cx="840.2" cy="184.5" r="7.4" fill="#4f58b0" stroke="#111128" stroke-width="1.25"/>
<circle cx="747.9" cy="198.2" r="7.4" fill="#4f58b0" stroke="#111128" stroke-width="1.25"/>
<circle cx="747.5" cy="207.5" r="7.4" fill="#4f58b0" stroke="#111128" stroke-width="1.25"/>
<circle cx="818.5" cy="226.9" r="7.4" fill="#4f58b0" stroke="#111128" stroke-width="1.25"/>
<circle cx="747.5" cy="270.5" r="7.4" fill="#4a3ea3" stroke="#111128" stroke-width="1.25"/>
<circle cx="747.5" cy="266.8" r="7.4" fill="#4f58b0" stroke="#111128" stroke-width="1.25"/>
<circle cx="670.2" cy="283.7" r="7.4" fill="#4f58b0" stroke="#111128" stroke-width="1.25"/>
<circle cx="703.8" cy="287.0" r="7.4" fill="#4f58b0" stroke="#111128" stroke-width="1.25"/>
<circle cx="747.5" cy="285.2" r="7.4" fill="#4f58b0" stroke="#111128" stroke-width="1.25"/>
<circle cx="763.8" cy="293.2" r="7.4" fill="#5263b4" stroke="#111128" stroke-width="1.25"/>
<circle cx="515.6" cy="232.5" r="7.4" fill="#4f58b0" stroke="#111128" stroke-width="1.25"/>
<circle cx="516.5" cy="253.4" r="7.4" fill="#4f58b0" stroke="#111128" stroke-width="1.25"/>
<circle cx="531.0" cy="322.0" r="7.4" fill="#4f58b0" stroke="#111128" stroke-width="1.25"/>
<circle cx="547.6" cy="324.9" r="7.4" fill="#4f58b0" stroke="#111128" stroke-width="1.25"/>
<circle cx="567.4" cy="313.8" r="7.4" fill="#4f58b0" stroke="#111128" stroke-width="1.25"/>
<circle cx="573.0" cy="311.6" r="7.4" fill="#4f72bd" stroke="#111128" stroke-width="1.25"/>
<circle cx="605.6" cy="309.9" r="7.4" fill="#4f58b0" stroke="#111128" stroke-width="1.25"/>
<circle cx="540.5" cy="352.9" r="7.4" fill="#4f58b0" stroke="#111128" stroke-width="1.25"/>
<circle cx="548.2" cy="349.2" r="7.4" fill="#4f58b0" stroke="#111128" stroke-width="1.25"/>
<circle cx="560.8" cy="361.7" r="7.4" fill="#4f58b0" stroke="#111128" stroke-width="1.25"/>
<circle cx="574.1" cy="360.2" r="7.4" fill="#4f58b0" stroke="#111128" stroke-width="1.25"/>
<circle cx="569.7" cy="376.1" r="7.4" fill="#f7c92c" stroke="#111128" stroke-width="1.25"/>
<circle cx="570.3" cy="384.5" r="7.4" fill="#f7c92c" stroke="#111128" stroke-width="1.25"/>
<circle cx="580.7" cy="380.5" r="7.4" fill="#f7c92c" stroke="#111128" stroke-width="1.25"/>
<circle cx="590.6" cy="376.5" r="7.4" fill="#f7c92c" stroke="#111128" stroke-width="1.25"/>
<circle cx="567.0" cy="414.7" r="7.4" fill="#f3e72c" stroke="#111128" stroke-width="1.25"/>
<circle cx="511.6" cy="444.5" r="7.4" fill="#4f58b0" stroke="#111128" stroke-width="1.25"/>
<circle cx="534.3" cy="435.3" r="7.4" fill="#4f58b0" stroke="#111128" stroke-width="1.25"/>
<circle cx="557.5" cy="435.7" r="7.4" fill="#4f58b0" stroke="#111128" stroke-width="1.25"/>
<circle cx="562.0" cy="443.4" r="7.4" fill="#f3e72c" stroke="#111128" stroke-width="1.25"/>
<circle cx="568.6" cy="441.2" r="7.4" fill="#5263b4" stroke="#111128" stroke-width="1.25"/>
<circle cx="589.5" cy="435.3" r="7.4" fill="#4f58b0" stroke="#111128" stroke-width="1.25"/>
<circle cx="592.8" cy="456.0" r="7.4" fill="#4f58b0" stroke="#111128" stroke-width="1.25"/>
<circle cx="597.3" cy="464.4" r="7.4" fill="#4f58b0" stroke="#111128" stroke-width="1.25"/>
<circle cx="568.1" cy="467.7" r="7.4" fill="#f3e72c" stroke="#111128" stroke-width="1.25"/>
<circle cx="575.2" cy="496.4" r="7.4" fill="#f3e72c" stroke="#111128" stroke-width="1.25"/>
<circle cx="586.9" cy="522.9" r="7.4" fill="#f3e72c" stroke="#111128" stroke-width="1.25"/>
<circle cx="601.7" cy="546.5" r="7.4" fill="#f3e72c" stroke="#111128" stroke-width="1.25"/>
<circle cx="603.0" cy="464.0" r="7.4" fill="#4f58b0" stroke="#111128" stroke-width="1.25"/>
<circle cx="609.0" cy="466.0" r="7.4" fill="#4f58b0" stroke="#111128" stroke-width="1.25"/>
<circle cx="616.0" cy="466.0" r="7.4" fill="#4f58b0" stroke="#111128" stroke-width="1.25"/>
<circle cx="622.0" cy="467.0" r="7.4" fill="#4a3ea3" stroke="#111128" stroke-width="1.25"/>
<circle cx="628.0" cy="469.0" r="7.4" fill="#4a3ea3" stroke="#111128" stroke-width="1.25"/>
<circle cx="617.7" cy="475.3" r="7.4" fill="#4f58b0" stroke="#111128" stroke-width="1.25"/>
<circle cx="633.8" cy="475.3" r="7.4" fill="#4f58b0" stroke="#111128" stroke-width="1.25"/>
<circle cx="636.8" cy="469.4" r="7.4" fill="#4a3ea3" stroke="#111128" stroke-width="1.25"/>
<circle cx="641.2" cy="459.1" r="7.4" fill="#4a3ea3" stroke="#111128" stroke-width="1.25"/>
<circle cx="644.2" cy="457.7" r="7.4" fill="#4a3ea3" stroke="#111128" stroke-width="1.25"/>
<circle cx="643.4" cy="463.5" r="7.4" fill="#4a3ea3" stroke="#111128" stroke-width="1.25"/>
<circle cx="629.4" cy="484.2" r="7.4" fill="#4f58b0" stroke="#111128" stroke-width="1.25"/>
<circle cx="642.7" cy="482.7" r="7.4" fill="#4a3ea3" stroke="#111128" stroke-width="1.25"/>
<circle cx="641.2" cy="491.5" r="7.4" fill="#4f58b0" stroke="#111128" stroke-width="1.25"/>
<circle cx="633.8" cy="500.3" r="7.4" fill="#4f58b0" stroke="#111128" stroke-width="1.25"/>
<circle cx="638.0" cy="475.0" r="7.4" fill="#4a3ea3" stroke="#111128" stroke-width="1.25"/>
<circle cx="634.0" cy="490.0" r="7.4" fill="#4a3ea3" stroke="#111128" stroke-width="1.25"/>
<circle cx="602.2" cy="546.0" r="7.4" fill="#f3e72c" stroke="#111128" stroke-width="1.25"/>
<circle cx="620.6" cy="568.8" r="7.4" fill="#f3e72c" stroke="#111128" stroke-width="1.25"/>
<circle cx="640.5" cy="586.4" r="7.4" fill="#f3e72c" stroke="#111128" stroke-width="1.25"/>
<circle cx="655.2" cy="590.8" r="7.4" fill="#f3e72c" stroke="#111128" stroke-width="1.25"/>
<circle cx="675.8" cy="585.7" r="7.4" fill="#f3e72c" stroke="#111128" stroke-width="1.25"/>
<circle cx="684.6" cy="570.2" r="7.4" fill="#d6cc3c" stroke="#111128" stroke-width="1.25"/>
<circle cx="687.6" cy="556.3" r="7.4" fill="#f3e72c" stroke="#111128" stroke-width="1.25"/>
<circle cx="688.3" cy="542.3" r="7.4" fill="#f3e72c" stroke="#111128" stroke-width="1.25"/>
<circle cx="706.0" cy="537.1" r="7.4" fill="#f3e72c" stroke="#111128" stroke-width="1.25"/>
<circle cx="669.9" cy="544.5" r="7.4" fill="#4f58b0" stroke="#111128" stroke-width="1.25"/>
<circle cx="718.5" cy="523.9" r="7.4" fill="#f3e72c" stroke="#111128" stroke-width="1.25"/>
<circle cx="726.6" cy="525.4" r="7.4" fill="#f3e72c" stroke="#111128" stroke-width="1.25"/>
<circle cx="742.8" cy="534.2" r="7.4" fill="#f3e72c" stroke="#111128" stroke-width="1.25"/>
<circle cx="726.9" cy="601.9" r="7.4" fill="#f3e72c" stroke="#111128" stroke-width="1.25"/>
<circle cx="751.6" cy="522.4" r="7.4" fill="#f3e72c" stroke="#111128" stroke-width="1.25"/>
<circle cx="751.6" cy="527.0" r="7.4" fill="#f3e72c" stroke="#111128" stroke-width="1.25"/>
<circle cx="751.6" cy="531.0" r="7.4" fill="#f3e72c" stroke="#111128" stroke-width="1.25"/>
<circle cx="751.6" cy="535.0" r="7.4" fill="#f3e72c" stroke="#111128" stroke-width="1.25"/>
<circle cx="751.6" cy="539.0" r="7.4" fill="#f3e72c" stroke="#111128" stroke-width="1.25"/>
<circle cx="751.6" cy="543.0" r="7.4" fill="#f3e72c" stroke="#111128" stroke-width="1.25"/>
<circle cx="752.0" cy="547.0" r="7.4" fill="#f3e72c" stroke="#111128" stroke-width="1.25"/>
<circle cx="753.5" cy="549.8" r="7.4" fill="#f3e72c" stroke="#111128" stroke-width="1.25"/>
<circle cx="759.0" cy="550.4" r="7.4" fill="#f3e72c" stroke="#111128" stroke-width="1.25"/>
<circle cx="763.4" cy="529.8" r="7.4" fill="#4a3ea3" stroke="#111128" stroke-width="1.25"/>
<circle cx="769.2" cy="534.2" r="7.4" fill="#4a3ea3" stroke="#111128" stroke-width="1.25"/>
<circle cx="775.1" cy="543.0" r="7.4" fill="#4a3ea3" stroke="#111128" stroke-width="1.25"/>
<circle cx="760.0" cy="526.0" r="7.4" fill="#4a3ea3" stroke="#111128" stroke-width="1.25"/>
<circle cx="843.3" cy="572.5" r="7.4" fill="#4a3ea3" stroke="#111128" stroke-width="1.25"/>
<circle cx="849.2" cy="573.9" r="7.4" fill="#4a3ea3" stroke="#111128" stroke-width="1.25"/>
<circle cx="841.8" cy="581.3" r="7.4" fill="#4f58b0" stroke="#111128" stroke-width="1.25"/>
<circle cx="847.7" cy="579.8" r="7.4" fill="#4f58b0" stroke="#111128" stroke-width="1.25"/>
<circle cx="831.5" cy="587.2" r="7.4" fill="#4f58b0" stroke="#111128" stroke-width="1.25"/>
<circle cx="838.9" cy="588.6" r="7.4" fill="#4f58b0" stroke="#111128" stroke-width="1.25"/>
<circle cx="850.6" cy="585.7" r="7.4" fill="#4f58b0" stroke="#111128" stroke-width="1.25"/>
<circle cx="853.6" cy="588.6" r="7.4" fill="#4f58b0" stroke="#111128" stroke-width="1.25"/>
<circle cx="834.5" cy="600.4" r="7.4" fill="#4a3ea3" stroke="#111128" stroke-width="1.25"/>
<circle cx="841.8" cy="596.0" r="7.4" fill="#4f58b0" stroke="#111128" stroke-width="1.25"/>
<circle cx="847.7" cy="593.0" r="7.4" fill="#4f58b0" stroke="#111128" stroke-width="1.25"/>
<circle cx="855.1" cy="593.0" r="7.4" fill="#4f58b0" stroke="#111128" stroke-width="1.25"/>
<circle cx="868.3" cy="590.1" r="7.4" fill="#4f58b0" stroke="#111128" stroke-width="1.25"/>
<circle cx="844.0" cy="590.0" r="7.4" fill="#4f58b0" stroke="#111128" stroke-width="1.25"/>
<circle cx="794.7" cy="596.0" r="7.4" fill="#4f58b0" stroke="#111128" stroke-width="1.25"/>
<circle cx="784.4" cy="600.4" r="7.4" fill="#4f58b0" stroke="#111128" stroke-width="1.25"/>
<circle cx="810.9" cy="600.4" r="7.4" fill="#4f58b0" stroke="#111128" stroke-width="1.25"/>
<circle cx="794.7" cy="618.1" r="7.4" fill="#4a3ea3" stroke="#111128" stroke-width="1.25"/>
<circle cx="802.1" cy="621.0" r="7.4" fill="#4a3ea3" stroke="#111128" stroke-width="1.25"/>
<circle cx="809.4" cy="622.5" r="7.4" fill="#4a3ea3" stroke="#111128" stroke-width="1.25"/>
<circle cx="815.3" cy="613.7" r="7.4" fill="#4a3ea3" stroke="#111128" stroke-width="1.25"/>
<circle cx="819.7" cy="615.1" r="7.4" fill="#4a3ea3" stroke="#111128" stroke-width="1.25"/>
<circle cx="812.4" cy="626.9" r="7.4" fill="#4a3ea3" stroke="#111128" stroke-width="1.25"/>
<circle cx="865.4" cy="628.4" r="7.4" fill="#4a3ea3" stroke="#111128" stroke-width="1.25"/>
<circle cx="768.9" cy="615.3" r="7.4" fill="#4a3ea3" stroke="#111128" stroke-width="1.25"/>
<circle cx="894.7" cy="658.4" r="7.4" fill="#4a3ea3" stroke="#111128" stroke-width="1.25"/>
<circle cx="887.0" cy="670.5" r="7.4" fill="#4a3ea3" stroke="#111128" stroke-width="1.25"/>
<circle cx="757.2" cy="776.5" r="7.4" fill="#e5a23f" stroke="#111128" stroke-width="1.25"/>
<circle cx="767.8" cy="772.0" r="7.4" fill="#e5a23f" stroke="#111128" stroke-width="1.25"/>
<circle cx="772.2" cy="768.7" r="7.4" fill="#e5a23f" stroke="#111128" stroke-width="1.25"/>
<circle cx="785.4" cy="768.7" r="7.4" fill="#e5a23f" stroke="#111128" stroke-width="1.25"/>
<circle cx="796.5" cy="768.7" r="7.4" fill="#e5a23f" stroke="#111128" stroke-width="1.25"/>
<circle cx="800.0" cy="768.7" r="7.4" fill="#e5a23f" stroke="#111128" stroke-width="1.25"/>
<circle cx="802.0" cy="768.7" r="7.4" fill="#e5a23f" stroke="#111128" stroke-width="1.25"/>
<circle cx="804.2" cy="768.7" r="7.4" fill="#e5a23f" stroke="#111128" stroke-width="1.25"/>
<circle cx="949.5" cy="693.7" r="7.4" fill="#4a3ea3" stroke="#111128" stroke-width="1.25"/>
<circle cx="952.4" cy="701.0" r="7.4" fill="#5263b4" stroke="#111128" stroke-width="1.25"/>
<circle cx="911.3" cy="724.6" r="7.4" fill="#4a3ea3" stroke="#111128" stroke-width="1.25"/>
<circle cx="1023.9" cy="318.3" r="7.4" fill="#5263b4" stroke="#111128" stroke-width="1.25"/>
<circle cx="923.7" cy="382.7" r="7.4" fill="#4f58b0" stroke="#111128" stroke-width="1.25"/>
<circle cx="941.4" cy="412.5" r="7.4" fill="#4f58b0" stroke="#111128" stroke-width="1.25"/>
<circle cx="945.8" cy="409.6" r="7.4" fill="#4f58b0" stroke="#111128" stroke-width="1.25"/>
<circle cx="961.2" cy="413.6" r="7.4" fill="#4f58b0" stroke="#111128" stroke-width="1.25"/>
<circle cx="967.9" cy="416.9" r="7.4" fill="#4f58b0" stroke="#111128" stroke-width="1.25"/>
<circle cx="973.8" cy="418.5" r="7.4" fill="#4f58b0" stroke="#111128" stroke-width="1.25"/>
<circle cx="977.1" cy="409.2" r="7.4" fill="#4f58b0" stroke="#111128" stroke-width="1.25"/>
<circle cx="984.9" cy="396.0" r="7.4" fill="#4f58b0" stroke="#111128" stroke-width="1.25"/>
<circle cx="991.5" cy="381.6" r="7.4" fill="#4f58b0" stroke="#111128" stroke-width="1.25"/>
<circle cx="996.6" cy="365.5" r="7.4" fill="#4f58b0" stroke="#111128" stroke-width="1.25"/>
<circle cx="1003.6" cy="362.8" r="7.4" fill="#4f58b0" stroke="#111128" stroke-width="1.25"/>
<circle cx="1010.2" cy="348.5" r="7.4" fill="#4a3ea3" stroke="#111128" stroke-width="1.25"/>
<circle cx="1011.3" cy="354.0" r="7.4" fill="#4f58b0" stroke="#111128" stroke-width="1.25"/>
<circle cx="1013.6" cy="359.5" r="7.4" fill="#4a3ea3" stroke="#111128" stroke-width="1.25"/>
<circle cx="1021.3" cy="360.6" r="7.4" fill="#4f58b0" stroke="#111128" stroke-width="1.25"/>
<circle cx="1024.6" cy="345.2" r="7.4" fill="#4f58b0" stroke="#111128" stroke-width="1.25"/>
<circle cx="1031.2" cy="343.0" r="7.4" fill="#4f58b0" stroke="#111128" stroke-width="1.25"/>
<circle cx="1034.5" cy="348.5" r="7.4" fill="#4f58b0" stroke="#111128" stroke-width="1.25"/>
<circle cx="1027.5" cy="355.8" r="7.4" fill="#4a3ea3" stroke="#111128" stroke-width="1.25"/>
<circle cx="1033.4" cy="365.0" r="7.4" fill="#4f58b0" stroke="#111128" stroke-width="1.25"/>
<circle cx="1040.0" cy="373.9" r="7.4" fill="#4a3ea3" stroke="#111128" stroke-width="1.25"/>
<circle cx="1028.3" cy="378.3" r="7.4" fill="#4f58b0" stroke="#111128" stroke-width="1.25"/>
<circle cx="1057.7" cy="379.4" r="7.4" fill="#4a3ea3" stroke="#111128" stroke-width="1.25"/>
<circle cx="1009.4" cy="463.3" r="7.4" fill="#4a3ea3" stroke="#111128" stroke-width="1.25"/>
<circle cx="991.0" cy="567.0" r="7.4" fill="#4a3ea3" stroke="#111128" stroke-width="1.25"/>
<circle cx="911.7" cy="498.9" r="7.4" fill="#f7c92c" stroke="#111128" stroke-width="1.25"/>
</g>
<path d="M856.99 853.11 A430.0 430.0 0 1 1 931.69 826.08" fill="none" stroke="#000" stroke-width="2.2"/>
<g transform="translate(877,858) rotate(-21.8)"><rect x="-3" y="-16.5" width="52" height="26" fill="#fff"/><text x="0" y="0" font-size="21" fill="#000" style="font-family:'Liberation Sans', Arial, Helvetica, sans-serif">35°S</text></g>
<text x="738" y="28" font-size="21.5" style="font-family:'Liberation Sans', Arial, Helvetica, sans-serif">0°</text>
<text x="318" y="446" font-size="21.5" style="font-family:'Liberation Sans', Arial, Helvetica, sans-serif">90°W</text>
<text x="1134" y="446" font-size="21.5" style="font-family:'Liberation Sans', Arial, Helvetica, sans-serif">90°E</text>
<text x="729" y="863" font-size="21.5" style="font-family:'Liberation Sans', Arial, Helvetica, sans-serif">180°</text>
<text x="0" y="0" transform="translate(547.0,124.0) rotate(-22.0)" font-size="20.0" style="font-family:'Liberation Sans', Arial, Helvetica, sans-serif">Atlantic Ocean</text>
<text x="0" y="0" transform="translate(1014.0,177.0) rotate(56.0)" font-size="20.5" style="font-family:'Liberation Sans', Arial, Helvetica, sans-serif">Indian Ocean</text>
<text x="0" y="0" transform="translate(431.0,666.0) rotate(41.0)" font-size="20.5" style="font-family:'Liberation Sans', Arial, Helvetica, sans-serif">Pacific Ocean</text>
<text x="0" y="0" transform="translate(626.0,324.0) rotate(-9.0)" font-size="20.0" style="font-family:'Liberation Sans', Arial, Helvetica, sans-serif">Weddell</text>
<text x="0" y="0" transform="translate(533.5,451.0) rotate(70.0)" font-size="20.0" style="font-family:'Liberation Sans', Arial, Helvetica, sans-serif">Bellinghausen-</text>
<text x="0" y="0" transform="translate(515.7,475.0) rotate(70.0)" font-size="20.0" style="font-family:'Liberation Sans', Arial, Helvetica, sans-serif">Amundsen</text>
<text x="0" y="0" transform="translate(716.5,572.0) rotate(16.0)" font-size="19.5" style="font-family:'Liberation Sans', Arial, Helvetica, sans-serif">Ross</text>
<text x="291" y="26" font-size="31" font-weight="bold" style="font-family:'Liberation Sans', Arial, Helvetica, sans-serif">A</text>
<rect x="318.00" y="891.0" width="72.27" height="34.0" fill="#46388f"/>
<text x="353.0" y="945.5" font-size="20" text-anchor="middle" style="font-family:'Liberation Sans', Arial, Helvetica, sans-serif">Jan</text>
<rect x="389.67" y="891.0" width="72.27" height="34.0" fill="#4d52a3"/>
<text x="422.8" y="945.5" font-size="20" text-anchor="middle" style="font-family:'Liberation Sans', Arial, Helvetica, sans-serif">Feb</text>
<rect x="461.33" y="891.0" width="72.27" height="34.0" fill="#5063ad"/>
<text x="493.9" y="945.5" font-size="20" text-anchor="middle" style="font-family:'Liberation Sans', Arial, Helvetica, sans-serif">Mar</text>
<rect x="533.00" y="891.0" width="72.27" height="34.0" fill="#4b7bbe"/>
<text x="566.3" y="945.5" font-size="20" text-anchor="middle" style="font-family:'Liberation Sans', Arial, Helvetica, sans-serif">Apr</text>
<rect x="604.67" y="891.0" width="72.27" height="34.0" fill="#359bd6"/>
<text x="637.7" y="945.5" font-size="20" text-anchor="middle" style="font-family:'Liberation Sans', Arial, Helvetica, sans-serif">May</text>
<rect x="676.33" y="891.0" width="72.27" height="34.0" fill="#1cb4c8"/>
<text x="710.1" y="945.5" font-size="20" text-anchor="middle" style="font-family:'Liberation Sans', Arial, Helvetica, sans-serif">Jun</text>
<rect x="748.00" y="891.0" width="72.27" height="34.0" fill="#30bb9e"/>
<text x="782.2" y="945.5" font-size="20" text-anchor="middle" style="font-family:'Liberation Sans', Arial, Helvetica, sans-serif">Jul</text>
<rect x="819.67" y="891.0" width="72.27" height="34.0" fill="#6dbe6b"/>
<text x="855.2" y="945.5" font-size="20" text-anchor="middle" style="font-family:'Liberation Sans', Arial, Helvetica, sans-serif">Aug</text>
<rect x="891.33" y="891.0" width="72.27" height="34.0" fill="#b4c33b"/>
<text x="926.5" y="945.5" font-size="20" text-anchor="middle" style="font-family:'Liberation Sans', Arial, Helvetica, sans-serif">Sep</text>
<rect x="963.00" y="891.0" width="72.27" height="34.0" fill="#f2b33a"/>
<text x="999.1" y="945.5" font-size="20" text-anchor="middle" style="font-family:'Liberation Sans', Arial, Helvetica, sans-serif">Oct</text>
<rect x="1034.67" y="891.0" width="72.27" height="34.0" fill="#f8cd2c"/>
<text x="1070.3" y="945.5" font-size="20" text-anchor="middle" style="font-family:'Liberation Sans', Arial, Helvetica, sans-serif">Nov</text>
<rect x="1106.33" y="891.0" width="72.27" height="34.0" fill="#f2e62b"/>
<text x="1142.5" y="945.5" font-size="20" text-anchor="middle" style="font-family:'Liberation Sans', Arial, Helvetica, sans-serif">Dec</text>
<circle cx="177.7" cy="1407.3" r="6.4" fill="#D95319"/>
<circle cx="177.7" cy="1438.4" r="6.4" fill="#D95319"/>
<circle cx="177.7" cy="1462.9" r="6.4" fill="#D95319"/>
<circle cx="278.2" cy="1366.9" r="6.4" fill="#D95319"/>
<circle cx="337.1" cy="1390.7" r="6.4" fill="#D95319"/>
<circle cx="278.2" cy="1413.9" r="6.4" fill="#D95319"/>
<circle cx="278.2" cy="1421.9" r="6.4" fill="#D95319"/>
<circle cx="278.2" cy="1431.1" r="6.4" fill="#D95319"/>
<circle cx="278.2" cy="1470.9" r="6.4" fill="#D95319"/>
<circle cx="298.7" cy="1476.2" r="6.4" fill="#D95319"/>
<circle cx="177.7" cy="1462.6" r="6.4" fill="#D95319"/>
<circle cx="177.7" cy="1495.1" r="6.4" fill="#D95319"/>
<circle cx="209.5" cy="1494.4" r="6.4" fill="#D95319"/>
<circle cx="196.9" cy="1532.8" r="6.4" fill="#D95319"/>
<circle cx="265.0" cy="1510.0" r="6.4" fill="#D95319"/>
<circle cx="277.5" cy="1471.9" r="6.4" fill="#D95319"/>
<circle cx="276.2" cy="1479.9" r="6.4" fill="#D95319"/>
<circle cx="276.2" cy="1486.5" r="6.4" fill="#D95319"/>
<circle cx="298.7" cy="1481.2" r="6.4" fill="#D95319"/>
<circle cx="298.7" cy="1499.1" r="6.4" fill="#D95319"/>
<circle cx="268.9" cy="1509.7" r="6.4" fill="#D95319"/>
<circle cx="298.7" cy="1518.9" r="6.4" fill="#D95319"/>
<circle cx="334.5" cy="1485.2" r="6.4" fill="#D95319"/>
<circle cx="335.8" cy="1526.9" r="6.4" fill="#D95319"/>
<circle cx="209.4" cy="1366.9" r="6.4" fill="#D95319"/>
<circle cx="205.7" cy="1431.1" r="6.4" fill="#D95319"/>
<circle cx="385.0" cy="1413.5" r="6.4" fill="#D95319"/>
<circle cx="385.0" cy="1439.0" r="6.4" fill="#D95319"/>
<circle cx="383.5" cy="1460.0" r="6.4" fill="#D95319"/>
<circle cx="383.5" cy="1464.5" r="6.4" fill="#D95319"/>
<circle cx="379.0" cy="1512.5" r="6.4" fill="#D95319"/>
<circle cx="379.7" cy="1533.5" r="6.4" fill="#D95319"/>
<circle cx="340.0" cy="1389.5" r="6.4" fill="#D95319"/>
<circle cx="192.3" cy="1437.7" r="6.4" fill="#EDB120"/>
<circle cx="206.9" cy="1450.3" r="6.4" fill="#EDB120"/>
<circle cx="163.8" cy="1468.9" r="6.4" fill="#EDB120"/>
<circle cx="205.5" cy="1470.2" r="6.4" fill="#EDB120"/>
<circle cx="218.8" cy="1473.5" r="6.4" fill="#EDB120"/>
<circle cx="345.1" cy="1424.5" r="6.4" fill="#EDB120"/>
<circle cx="329.2" cy="1452.3" r="6.4" fill="#EDB120"/>
<circle cx="329.2" cy="1470.9" r="6.4" fill="#EDB120"/>
<circle cx="341.1" cy="1455.0" r="6.4" fill="#EDB120"/>
<circle cx="342.4" cy="1470.9" r="6.4" fill="#EDB120"/>
<circle cx="280.2" cy="1476.2" r="6.4" fill="#EDB120"/>
<circle cx="163.1" cy="1469.3" r="6.4" fill="#EDB120"/>
<circle cx="205.5" cy="1470.6" r="6.4" fill="#EDB120"/>
<circle cx="219.4" cy="1473.2" r="6.4" fill="#EDB120"/>
<circle cx="236.0" cy="1495.1" r="6.4" fill="#EDB120"/>
<circle cx="163.1" cy="1517.0" r="6.4" fill="#EDB120"/>
<circle cx="163.1" cy="1524.2" r="6.4" fill="#EDB120"/>
<circle cx="163.1" cy="1534.2" r="6.4" fill="#EDB120"/>
<circle cx="163.1" cy="1547.4" r="6.4" fill="#EDB120"/>
<circle cx="163.1" cy="1540.0" r="6.4" fill="#EDB120"/>
<circle cx="192.3" cy="1499.7" r="6.4" fill="#EDB120"/>
<circle cx="192.3" cy="1507.7" r="6.4" fill="#EDB120"/>
<circle cx="192.3" cy="1515.6" r="6.4" fill="#EDB120"/>
<circle cx="192.3" cy="1523.6" r="6.4" fill="#EDB120"/>
<circle cx="208.2" cy="1501.1" r="6.4" fill="#EDB120"/>
<circle cx="212.2" cy="1503.7" r="6.4" fill="#EDB120"/>
<circle cx="209.5" cy="1510.3" r="6.4" fill="#EDB120"/>
<circle cx="209.5" cy="1518.3" r="6.4" fill="#EDB120"/>
<circle cx="209.5" cy="1526.2" r="6.4" fill="#EDB120"/>
<circle cx="221.4" cy="1519.0" r="6.4" fill="#EDB120"/>
<circle cx="236.0" cy="1519.0" r="6.4" fill="#EDB120"/>
<circle cx="228.0" cy="1519.0" r="6.4" fill="#EDB120"/>
<circle cx="208.2" cy="1543.4" r="6.4" fill="#EDB120"/>
<circle cx="208.2" cy="1551.4" r="6.4" fill="#EDB120"/>
<circle cx="218.8" cy="1550.1" r="6.4" fill="#EDB120"/>
<circle cx="220.1" cy="1558.0" r="6.4" fill="#EDB120"/>
<circle cx="230.7" cy="1567.3" r="6.4" fill="#EDB120"/>
<circle cx="208.2" cy="1576.6" r="6.4" fill="#EDB120"/>
<circle cx="209.5" cy="1580.5" r="6.4" fill="#EDB120"/>
<circle cx="208.2" cy="1593.8" r="6.4" fill="#EDB120"/>
<circle cx="281.5" cy="1477.2" r="6.4" fill="#EDB120"/>
<circle cx="282.8" cy="1486.5" r="6.4" fill="#EDB120"/>
<circle cx="282.2" cy="1493.1" r="6.4" fill="#EDB120"/>
<circle cx="282.2" cy="1508.3" r="6.4" fill="#EDB120"/>
<circle cx="282.2" cy="1541.5" r="6.4" fill="#EDB120"/>
<circle cx="327.8" cy="1462.6" r="6.4" fill="#EDB120"/>
<circle cx="327.8" cy="1471.9" r="6.4" fill="#EDB120"/>
<circle cx="342.4" cy="1470.6" r="6.4" fill="#EDB120"/>
<circle cx="341.1" cy="1481.2" r="6.4" fill="#EDB120"/>
<circle cx="343.7" cy="1491.8" r="6.4" fill="#EDB120"/>
<circle cx="343.7" cy="1499.7" r="6.4" fill="#EDB120"/>
<circle cx="341.1" cy="1507.7" r="6.4" fill="#EDB120"/>
<circle cx="341.1" cy="1515.6" r="6.4" fill="#EDB120"/>
<circle cx="193.6" cy="1437.1" r="6.4" fill="#EDB120"/>
<circle cx="207.0" cy="1450.5" r="6.4" fill="#EDB120"/>
<circle cx="205.7" cy="1468.6" r="6.4" fill="#EDB120"/>
<circle cx="219.1" cy="1473.5" r="6.4" fill="#EDB120"/>
<circle cx="412.0" cy="1469.0" r="6.4" fill="#EDB120"/>
<circle cx="407.5" cy="1490.0" r="6.4" fill="#EDB120"/>
<circle cx="406.0" cy="1499.0" r="6.4" fill="#EDB120"/>
<circle cx="406.0" cy="1509.5" r="6.4" fill="#EDB120"/>
<circle cx="407.5" cy="1524.5" r="6.4" fill="#EDB120"/>
<circle cx="346.0" cy="1424.0" r="6.4" fill="#EDB120"/>
<circle cx="343.0" cy="1472.0" r="6.4" fill="#EDB120"/>
<circle cx="344.5" cy="1490.0" r="6.4" fill="#EDB120"/>
<circle cx="344.5" cy="1505.0" r="6.4" fill="#EDB120"/>
<circle cx="412.0" cy="1468.2" r="6.4" fill="#EDB120"/>
<circle cx="132.0" cy="1342.9" r="6.4" fill="#0072BD"/>
<circle cx="132.5" cy="1380.8" r="6.4" fill="#0072BD"/>
<circle cx="129.7" cy="1396.5" r="6.4" fill="#0072BD"/>
<circle cx="400.0" cy="1470.5" r="6.4" fill="#0072BD"/>
<circle cx="400.0" cy="1485.5" r="6.4" fill="#0072BD"/>
<circle cx="400.0" cy="1503.5" r="6.4" fill="#0072BD"/>
<path d="M98.5 1407.2 L114.4 1404.5 L122.4 1412.5 L133.0 1404.5 L140.9 1396.6 L143.6 1407.2 L146.2 1428.3 L151.5 1444.2 L148.9 1454.8 L140.9 1462.8 L133.0 1465.4 L119.7 1462.8 L109.1 1460.1 L101.2 1457.5 L98.5 1438.9 Z" fill="#7E2F8E" stroke="#7E2F8E" stroke-width="1.5" stroke-linejoin="round"/>
<path d="M355.5 1436.3 L368.7 1431.0 L379.3 1438.9 L380.7 1465.4 L376.7 1486.6 L379.3 1499.9 L374.0 1513.1 L360.8 1518.4 L355.5 1507.8 L352.8 1486.6 L355.5 1465.4 Z" fill="#7E2F8E" stroke="#7E2F8E" stroke-width="1.5" stroke-linejoin="round"/>
<path d="M208.2 1391.1 L220.3 1388.7 L231.2 1388.1 L242.1 1387.5 L249.3 1392.3 L249.3 1400.8 L250.6 1408.1 L249.3 1415.3 L246.9 1422.6 L249.3 1429.9 L249.3 1437.1 L244.5 1442.0 L249.3 1448.0 L245.7 1454.1 L238.4 1452.9 L236.0 1458.9 L236.0 1466.2 L231.2 1471.0 L225.1 1472.3 L220.3 1468.6 L219.1 1461.4 L219.1 1454.1 L216.6 1448.0 L211.8 1449.2 L205.7 1445.6 L204.5 1439.6 L204.5 1431.1 L205.7 1423.8 L204.5 1415.3 L200.9 1409.3 L202.1 1400.8 Z" fill="#7E2F8E" stroke="#7E2F8E" stroke-width="1.5" stroke-linejoin="round"/>
<circle cx="106.5" cy="1351.5" r="6.4" fill="#7E2F8E"/>
<circle cx="111.8" cy="1351.5" r="6.4" fill="#7E2F8E"/>
<circle cx="103.8" cy="1359.5" r="6.4" fill="#7E2F8E"/>
<circle cx="114.4" cy="1364.8" r="6.4" fill="#7E2F8E"/>
<circle cx="103.8" cy="1370.0" r="6.4" fill="#7E2F8E"/>
<circle cx="119.7" cy="1372.7" r="6.4" fill="#7E2F8E"/>
<circle cx="106.5" cy="1380.7" r="6.4" fill="#7E2F8E"/>
<circle cx="122.4" cy="1380.7" r="6.4" fill="#7E2F8E"/>
<circle cx="103.8" cy="1388.6" r="6.4" fill="#7E2F8E"/>
<circle cx="114.4" cy="1388.6" r="6.4" fill="#7E2F8E"/>
<circle cx="106.5" cy="1396.6" r="6.4" fill="#7E2F8E"/>
<circle cx="103.8" cy="1404.5" r="6.4" fill="#7E2F8E"/>
<circle cx="110.0" cy="1400.0" r="6.4" fill="#7E2F8E"/>
<circle cx="118.0" cy="1395.0" r="6.4" fill="#7E2F8E"/>
<circle cx="126.0" cy="1388.0" r="6.4" fill="#7E2F8E"/>
<circle cx="108.0" cy="1376.0" r="6.4" fill="#7E2F8E"/>
<circle cx="113.0" cy="1358.0" r="6.4" fill="#7E2F8E"/>
<circle cx="131.5" cy="1400.0" r="6.4" fill="#7E2F8E"/>
<circle cx="134.0" cy="1410.0" r="6.4" fill="#7E2F8E"/>
<circle cx="138.0" cy="1395.0" r="6.4" fill="#7E2F8E"/>
<circle cx="137.0" cy="1418.0" r="6.4" fill="#7E2F8E"/>
<circle cx="145.0" cy="1410.0" r="6.4" fill="#7E2F8E"/>
<circle cx="132.0" cy="1455.0" r="6.4" fill="#7E2F8E"/>
<circle cx="140.0" cy="1470.0" r="6.4" fill="#7E2F8E"/>
<circle cx="131.0" cy="1474.0" r="6.4" fill="#7E2F8E"/>
<circle cx="116.0" cy="1466.0" r="6.4" fill="#7E2F8E"/>
<circle cx="104.0" cy="1462.0" r="6.4" fill="#7E2F8E"/>
<circle cx="125.0" cy="1470.0" r="6.4" fill="#7E2F8E"/>
<circle cx="121.4" cy="1469.4" r="6.4" fill="#7E2F8E"/>
<circle cx="136.2" cy="1477.7" r="6.4" fill="#7E2F8E"/>
<circle cx="133.4" cy="1483.3" r="6.4" fill="#7E2F8E"/>
<circle cx="131.1" cy="1364.6" r="6.4" fill="#7E2F8E"/>
<circle cx="133.4" cy="1386.3" r="6.4" fill="#7E2F8E"/>
<circle cx="163.9" cy="1336.5" r="6.4" fill="#7E2F8E"/>
<circle cx="163.9" cy="1401.1" r="6.4" fill="#7E2F8E"/>
<circle cx="162.9" cy="1417.7" r="6.4" fill="#7E2F8E"/>
<circle cx="163.9" cy="1437.1" r="6.4" fill="#7E2F8E"/>
<circle cx="162.9" cy="1446.3" r="6.4" fill="#7E2F8E"/>
<circle cx="176.4" cy="1443.0" r="6.4" fill="#7E2F8E"/>
<circle cx="177.7" cy="1452.3" r="6.4" fill="#7E2F8E"/>
<circle cx="188.3" cy="1452.3" r="6.4" fill="#7E2F8E"/>
<circle cx="188.3" cy="1477.5" r="6.4" fill="#7E2F8E"/>
<circle cx="187.6" cy="1479.2" r="6.4" fill="#7E2F8E"/>
<circle cx="130.0" cy="1516.3" r="6.4" fill="#7E2F8E"/>
<circle cx="104.2" cy="1460.0" r="6.4" fill="#7E2F8E"/>
<circle cx="138.0" cy="1464.0" r="6.4" fill="#7E2F8E"/>
<circle cx="216.2" cy="1057.9" r="6.4" fill="#7E2F8E"/>
<circle cx="216.6" cy="1288.2" r="6.4" fill="#7E2F8E"/>
<circle cx="220.3" cy="1297.9" r="6.4" fill="#7E2F8E"/>
<circle cx="231.2" cy="1296.6" r="6.4" fill="#7E2F8E"/>
<circle cx="225.1" cy="1302.7" r="6.4" fill="#7E2F8E"/>
<circle cx="214.8" cy="1314.2" r="6.4" fill="#7E2F8E"/>
<circle cx="215.4" cy="1329.3" r="6.4" fill="#7E2F8E"/>
<circle cx="216.0" cy="1336.0" r="6.4" fill="#7E2F8E"/>
<circle cx="228.8" cy="1330.6" r="6.4" fill="#7E2F8E"/>
<circle cx="230.0" cy="1337.8" r="6.4" fill="#7E2F8E"/>
<circle cx="222.7" cy="1333.0" r="6.4" fill="#7E2F8E"/>
<circle cx="219.1" cy="1353.6" r="6.4" fill="#7E2F8E"/>
<circle cx="223.9" cy="1358.4" r="6.4" fill="#7E2F8E"/>
<circle cx="217.9" cy="1366.9" r="6.4" fill="#7E2F8E"/>
<circle cx="230.0" cy="1369.3" r="6.4" fill="#7E2F8E"/>
<circle cx="223.9" cy="1376.6" r="6.4" fill="#7E2F8E"/>
<circle cx="214.2" cy="1386.3" r="6.4" fill="#7E2F8E"/>
<circle cx="214.2" cy="1465.0" r="6.4" fill="#7E2F8E"/>
<circle cx="214.8" cy="1465.6" r="6.4" fill="#7E2F8E"/>
<circle cx="230.0" cy="1465.3" r="6.4" fill="#7E2F8E"/>
<circle cx="229.4" cy="1468.0" r="6.4" fill="#7E2F8E"/>
<circle cx="288.1" cy="1404.6" r="6.4" fill="#7E2F8E"/>
<circle cx="298.7" cy="1400.7" r="6.4" fill="#7E2F8E"/>
<circle cx="309.3" cy="1399.3" r="6.4" fill="#7E2F8E"/>
<circle cx="309.3" cy="1406.0" r="6.4" fill="#7E2F8E"/>
<circle cx="335.8" cy="1407.3" r="6.4" fill="#7E2F8E"/>
<circle cx="347.7" cy="1404.6" r="6.4" fill="#7E2F8E"/>
<circle cx="347.7" cy="1411.3" r="6.4" fill="#7E2F8E"/>
<circle cx="288.1" cy="1431.1" r="6.4" fill="#7E2F8E"/>
<circle cx="298.7" cy="1423.2" r="6.4" fill="#7E2F8E"/>
<circle cx="309.3" cy="1423.2" r="6.4" fill="#7E2F8E"/>
<circle cx="309.3" cy="1431.1" r="6.4" fill="#7E2F8E"/>
<circle cx="288.1" cy="1437.7" r="6.4" fill="#7E2F8E"/>
<circle cx="309.3" cy="1439.1" r="6.4" fill="#7E2F8E"/>
<circle cx="298.7" cy="1430.0" r="6.4" fill="#7E2F8E"/>
<circle cx="298.7" cy="1437.0" r="6.4" fill="#7E2F8E"/>
<circle cx="298.7" cy="1449.7" r="6.4" fill="#7E2F8E"/>
<circle cx="288.1" cy="1457.6" r="6.4" fill="#7E2F8E"/>
<circle cx="288.1" cy="1470.9" r="6.4" fill="#7E2F8E"/>
<circle cx="298.7" cy="1468.2" r="6.4" fill="#7E2F8E"/>
<circle cx="335.8" cy="1441.7" r="6.4" fill="#7E2F8E"/>
<circle cx="347.7" cy="1431.1" r="6.4" fill="#7E2F8E"/>
<circle cx="347.7" cy="1437.7" r="6.4" fill="#7E2F8E"/>
<circle cx="347.7" cy="1451.0" r="6.4" fill="#7E2F8E"/>
<circle cx="288.1" cy="1462.6" r="6.4" fill="#7E2F8E"/>
<circle cx="288.1" cy="1471.9" r="6.4" fill="#7E2F8E"/>
<circle cx="298.7" cy="1468.0" r="6.4" fill="#7E2F8E"/>
<circle cx="347.7" cy="1480.5" r="6.4" fill="#7E2F8E"/>
<circle cx="335.8" cy="1500.4" r="6.4" fill="#7E2F8E"/>
<circle cx="346.4" cy="1532.8" r="6.4" fill="#7E2F8E"/>
<circle cx="335.8" cy="1564.6" r="6.4" fill="#7E2F8E"/>
<circle cx="335.4" cy="1320.1" r="6.4" fill="#7E2F8E"/>
<circle cx="370.9" cy="1207.5" r="6.4" fill="#7E2F8E"/>
<circle cx="361.6" cy="1228.4" r="6.4" fill="#7E2F8E"/>
<circle cx="371.5" cy="1259.2" r="6.4" fill="#7E2F8E"/>
<circle cx="370.7" cy="1357.2" r="6.4" fill="#7E2F8E"/>
<circle cx="375.2" cy="1371.5" r="6.4" fill="#7E2F8E"/>
<circle cx="370.0" cy="1380.5" r="6.4" fill="#7E2F8E"/>
<circle cx="360.2" cy="1383.5" r="6.4" fill="#7E2F8E"/>
<circle cx="370.0" cy="1389.5" r="6.4" fill="#7E2F8E"/>
<circle cx="372.2" cy="1404.5" r="6.4" fill="#7E2F8E"/>
<circle cx="369.2" cy="1409.0" r="6.4" fill="#7E2F8E"/>
<circle cx="374.5" cy="1421.0" r="6.4" fill="#7E2F8E"/>
<circle cx="370.7" cy="1428.5" r="6.4" fill="#7E2F8E"/>
<circle cx="374.5" cy="1433.0" r="6.4" fill="#7E2F8E"/>
<circle cx="362.5" cy="1440.5" r="6.4" fill="#7E2F8E"/>
<circle cx="370.0" cy="1442.0" r="6.4" fill="#7E2F8E"/>
<circle cx="361.0" cy="1452.5" r="6.4" fill="#7E2F8E"/>
<circle cx="370.0" cy="1454.0" r="6.4" fill="#7E2F8E"/>
<circle cx="361.0" cy="1463.0" r="6.4" fill="#7E2F8E"/>
<circle cx="370.0" cy="1464.5" r="6.4" fill="#7E2F8E"/>
<circle cx="361.0" cy="1475.0" r="6.4" fill="#7E2F8E"/>
<circle cx="371.5" cy="1475.0" r="6.4" fill="#7E2F8E"/>
<circle cx="359.5" cy="1484.0" r="6.4" fill="#7E2F8E"/>
<circle cx="371.5" cy="1484.0" r="6.4" fill="#7E2F8E"/>
<circle cx="361.0" cy="1497.5" r="6.4" fill="#7E2F8E"/>
<circle cx="373.0" cy="1491.5" r="6.4" fill="#7E2F8E"/>
<circle cx="364.0" cy="1506.5" r="6.4" fill="#7E2F8E"/>
<circle cx="370.0" cy="1509.5" r="6.4" fill="#7E2F8E"/>
<circle cx="362.5" cy="1518.5" r="6.4" fill="#7E2F8E"/>
<circle cx="370.0" cy="1520.0" r="6.4" fill="#7E2F8E"/>
<circle cx="364.0" cy="1532.0" r="6.4" fill="#7E2F8E"/>
<circle cx="374.5" cy="1532.0" r="6.4" fill="#7E2F8E"/>
<circle cx="369.2" cy="1544.0" r="6.4" fill="#7E2F8E"/>
<circle cx="374.5" cy="1553.0" r="6.4" fill="#7E2F8E"/>
<circle cx="364.0" cy="1560.5" r="6.4" fill="#7E2F8E"/>
<circle cx="374.5" cy="1569.5" r="6.4" fill="#7E2F8E"/>
<circle cx="374.5" cy="1578.5" r="6.4" fill="#7E2F8E"/>
<circle cx="366.0" cy="1470.0" r="6.4" fill="#7E2F8E"/>
<circle cx="366.0" cy="1490.0" r="6.4" fill="#7E2F8E"/>
<circle cx="366.0" cy="1512.0" r="6.4" fill="#7E2F8E"/>
<circle cx="366.0" cy="1447.0" r="6.4" fill="#7E2F8E"/>
<circle cx="366.0" cy="1460.0" r="6.4" fill="#7E2F8E"/>
<circle cx="386.5" cy="1353.5" r="6.4" fill="#7E2F8E"/>
<circle cx="388.0" cy="1362.5" r="6.4" fill="#7E2F8E"/>
<circle cx="386.5" cy="1377.5" r="6.4" fill="#7E2F8E"/>
<circle cx="387.2" cy="1389.5" r="6.4" fill="#7E2F8E"/>
<circle cx="394.0" cy="1400.0" r="6.4" fill="#7E2F8E"/>
<circle cx="395.5" cy="1406.0" r="6.4" fill="#7E2F8E"/>
<circle cx="385.0" cy="1401.5" r="6.4" fill="#7E2F8E"/>
<circle cx="398.5" cy="1433.0" r="6.4" fill="#7E2F8E"/>
<circle cx="397.0" cy="1442.0" r="6.4" fill="#7E2F8E"/>
<circle cx="386.5" cy="1443.5" r="6.4" fill="#7E2F8E"/>
<circle cx="392.5" cy="1458.5" r="6.4" fill="#7E2F8E"/>
<circle cx="394.0" cy="1467.5" r="6.4" fill="#7E2F8E"/>
<circle cx="394.0" cy="1478.0" r="6.4" fill="#7E2F8E"/>
<circle cx="394.0" cy="1487.0" r="6.4" fill="#7E2F8E"/>
<circle cx="394.0" cy="1502.0" r="6.4" fill="#7E2F8E"/>
<circle cx="392.5" cy="1511.0" r="6.4" fill="#7E2F8E"/>
<circle cx="394.0" cy="1520.0" r="6.4" fill="#7E2F8E"/>
<circle cx="394.0" cy="1526.0" r="6.4" fill="#7E2F8E"/>
<circle cx="392.5" cy="1542.5" r="6.4" fill="#7E2F8E"/>
<circle cx="346.7" cy="1406.0" r="6.4" fill="#7E2F8E"/>
<circle cx="347.5" cy="1430.0" r="6.4" fill="#7E2F8E"/>
<circle cx="346.7" cy="1448.0" r="6.4" fill="#7E2F8E"/>
<circle cx="346.7" cy="1481.0" r="6.4" fill="#7E2F8E"/>
<circle cx="346.7" cy="1533.5" r="6.4" fill="#7E2F8E"/>
<circle cx="340.0" cy="1499.0" r="6.4" fill="#7E2F8E"/>
<circle cx="414.2" cy="1511.0" r="6.4" fill="#7E2F8E"/>
<circle cx="371.6" cy="1406.0" r="6.4" fill="#7E2F8E"/>
<circle cx="371.6" cy="1411.3" r="6.4" fill="#7E2F8E"/>
<circle cx="382.2" cy="1400.7" r="6.4" fill="#7E2F8E"/>
<circle cx="366.7" cy="1495.1" r="6.4" fill="#77AC30"/>
<line x1="82" y1="1402" x2="432.5" y2="1457" stroke="#222" stroke-width="1.3"/>
<path d="M82.0 1047.3 V1607.0 H432.5" fill="none" stroke="#262626" stroke-width="1.4"/>
<line x1="82.0" y1="1607.0" x2="87.5" y2="1607.0" stroke="#262626" stroke-width="1.4"/>
<line x1="82.0" y1="1527.0" x2="87.5" y2="1527.0" stroke="#262626" stroke-width="1.4"/>
<line x1="82.0" y1="1447.1" x2="87.5" y2="1447.1" stroke="#262626" stroke-width="1.4"/>
<line x1="82.0" y1="1367.1" x2="87.5" y2="1367.1" stroke="#262626" stroke-width="1.4"/>
<line x1="82.0" y1="1287.2" x2="87.5" y2="1287.2" stroke="#262626" stroke-width="1.4"/>
<line x1="82.0" y1="1207.2" x2="87.5" y2="1207.2" stroke="#262626" stroke-width="1.4"/>
<line x1="82.0" y1="1127.3" x2="87.5" y2="1127.3" stroke="#262626" stroke-width="1.4"/>
<line x1="82.0" y1="1047.3" x2="87.5" y2="1047.3" stroke="#262626" stroke-width="1.4"/>
<text x="73.5" y="1617.5" font-size="25" text-anchor="end" fill="#000" style="font-family:'Liberation Sans', Arial, Helvetica, sans-serif">20</text>
<text x="73.5" y="1537.5" font-size="25" text-anchor="end" fill="#000" style="font-family:'Liberation Sans', Arial, Helvetica, sans-serif">21</text>
<text x="73.5" y="1457.6" font-size="25" text-anchor="end" fill="#000" style="font-family:'Liberation Sans', Arial, Helvetica, sans-serif">22</text>
<text x="73.5" y="1377.6" font-size="25" text-anchor="end" fill="#000" style="font-family:'Liberation Sans', Arial, Helvetica, sans-serif">23</text>
<text x="73.5" y="1297.7" font-size="25" text-anchor="end" fill="#000" style="font-family:'Liberation Sans', Arial, Helvetica, sans-serif">24</text>
<text x="73.5" y="1217.7" font-size="25" text-anchor="end" fill="#000" style="font-family:'Liberation Sans', Arial, Helvetica, sans-serif">25</text>
<text x="73.5" y="1137.8" font-size="25" text-anchor="end" fill="#000" style="font-family:'Liberation Sans', Arial, Helvetica, sans-serif">26</text>
<text x="73.5" y="1057.8" font-size="25" text-anchor="end" fill="#000" style="font-family:'Liberation Sans', Arial, Helvetica, sans-serif">27</text>
<line x1="81.2" y1="1607.0" x2="81.2" y2="1601.5" stroke="#262626" stroke-width="1.4"/>
<text x="84.7" y="1641" font-size="25" text-anchor="middle" style="font-family:'Liberation Sans', Arial, Helvetica, sans-serif">80</text>
<line x1="179.7" y1="1607.0" x2="179.7" y2="1601.5" stroke="#262626" stroke-width="1.4"/>
<text x="183.2" y="1641" font-size="25" text-anchor="middle" style="font-family:'Liberation Sans', Arial, Helvetica, sans-serif">70</text>
<line x1="278.2" y1="1607.0" x2="278.2" y2="1601.5" stroke="#262626" stroke-width="1.4"/>
<text x="281.7" y="1641" font-size="25" text-anchor="middle" style="font-family:'Liberation Sans', Arial, Helvetica, sans-serif">60</text>
<line x1="376.7" y1="1607.0" x2="376.7" y2="1601.5" stroke="#262626" stroke-width="1.4"/>
<text x="380.2" y="1641" font-size="25" text-anchor="middle" style="font-family:'Liberation Sans', Arial, Helvetica, sans-serif">50</text>
<text x="254" y="1675" font-size="26" text-anchor="middle" style="font-family:'Liberation Sans', Arial, Helvetica, sans-serif">Latitude <tspan dx="3" dy="6" font-size="34">°</tspan><tspan dx="1" dy="-6">S</tspan></text>
<text transform="translate(24.5,1325.5) rotate(-90)" font-size="25.5" text-anchor="middle" style="font-family:'Liberation Sans', Arial, Helvetica, sans-serif">Log K<tspan font-size="22" dy="12">FeL</tspan></text>
<rect x="251.6" y="1042" width="180.6" height="146" fill="#fff" stroke="#262626" stroke-width="1.2"/>
<circle cx="276.5" cy="1060.0" r="6.4" fill="#0072BD"/>
<text x="323" y="1067.0" font-size="20" style="font-family:'Liberation Sans', Arial, Helvetica, sans-serif">DHN</text>
<circle cx="276.5" cy="1089.0" r="6.4" fill="#D95319"/>
<text x="323" y="1096.0" font-size="20" style="font-family:'Liberation Sans', Arial, Helvetica, sans-serif">NN</text>
<circle cx="276.5" cy="1117.8" r="6.4" fill="#EDB120"/>
<text x="323" y="1124.8" font-size="20" style="font-family:'Liberation Sans', Arial, Helvetica, sans-serif">SA</text>
<circle cx="276.5" cy="1146.0" r="6.4" fill="#7E2F8E"/>
<text x="323" y="1153.0" font-size="20" style="font-family:'Liberation Sans', Arial, Helvetica, sans-serif">TAC</text>
<circle cx="276.5" cy="1170.5" r="6.4" fill="#77AC30"/>
<text x="323" y="1177.5" font-size="20" style="font-family:'Liberation Sans', Arial, Helvetica, sans-serif">TAC &amp; NN</text>
<text x="6.5" y="1024" font-size="31" font-weight="bold" style="font-family:'Liberation Sans', Arial, Helvetica, sans-serif">B</text>
<line x1="597.2" y1="1517.0" x2="597.2" y2="1474.6" stroke="#111" stroke-width="2.2"/>
<line x1="597.2" y1="1547.5" x2="597.2" y2="1562.6" stroke="#111" stroke-width="2.2"/>
<line x1="590.2" y1="1474.6" x2="604.2" y2="1474.6" stroke="#111" stroke-width="2.2"/>
<line x1="590.2" y1="1562.6" x2="604.2" y2="1562.6" stroke="#111" stroke-width="2.2"/>
<rect x="582.0" y="1517.0" width="30.5" height="30.5" fill="#cfe3f2" stroke="#0072BD" stroke-width="2.2"/>
<line x1="582.0" y1="1533.8" x2="612.5" y2="1533.8" stroke="#0072BD" stroke-width="2.2"/>
<circle cx="597.2" cy="1457.8" r="7.7" fill="none" stroke="#0072BD" stroke-width="2.4"/>
<circle cx="597.2" cy="1429.4" r="7.7" fill="none" stroke="#0072BD" stroke-width="2.4"/>
<line x1="655.8" y1="1397.9" x2="655.8" y2="1146.0" stroke="#111" stroke-width="2.2"/>
<line x1="655.8" y1="1582.5" x2="655.8" y2="1591.3" stroke="#111" stroke-width="2.2"/>
<line x1="648.8" y1="1146.0" x2="662.8" y2="1146.0" stroke="#111" stroke-width="2.2"/>
<line x1="648.8" y1="1591.3" x2="662.8" y2="1591.3" stroke="#111" stroke-width="2.2"/>
<rect x="640.6" y="1397.9" width="30.5" height="184.6" fill="#f7d9cc" stroke="#D95319" stroke-width="2.2"/>
<line x1="640.6" y1="1573.4" x2="671.1" y2="1573.4" stroke="#D95319" stroke-width="2.2"/>
<line x1="714.4" y1="1497.0" x2="714.4" y2="1397.9" stroke="#111" stroke-width="2.2"/>
<line x1="714.4" y1="1565.4" x2="714.4" y2="1589.9" stroke="#111" stroke-width="2.2"/>
<line x1="707.4" y1="1397.9" x2="721.4" y2="1397.9" stroke="#111" stroke-width="2.2"/>
<line x1="707.4" y1="1589.9" x2="721.4" y2="1589.9" stroke="#111" stroke-width="2.2"/>
<rect x="699.1" y="1497.0" width="30.5" height="68.3" fill="#fbefd2" stroke="#EDB120" stroke-width="2.2"/>
<line x1="699.1" y1="1542.2" x2="729.6" y2="1542.2" stroke="#EDB120" stroke-width="2.2"/>
<circle cx="714.4" cy="1390.9" r="7.7" fill="none" stroke="#EDB120" stroke-width="2.4"/>
<circle cx="714.4" cy="1387.4" r="7.7" fill="none" stroke="#EDB120" stroke-width="2.4"/>
<circle cx="714.4" cy="1383.9" r="7.7" fill="none" stroke="#EDB120" stroke-width="2.4"/>
<circle cx="714.4" cy="1380.4" r="7.7" fill="none" stroke="#EDB120" stroke-width="2.4"/>
<circle cx="714.4" cy="1376.9" r="7.7" fill="none" stroke="#EDB120" stroke-width="2.4"/>
<circle cx="714.4" cy="1362.8" r="7.7" fill="none" stroke="#EDB120" stroke-width="2.4"/>
<circle cx="714.4" cy="1359.3" r="7.7" fill="none" stroke="#EDB120" stroke-width="2.4"/>
<circle cx="714.4" cy="1355.8" r="7.7" fill="none" stroke="#EDB120" stroke-width="2.4"/>
<circle cx="714.4" cy="1352.3" r="7.7" fill="none" stroke="#EDB120" stroke-width="2.4"/>
<circle cx="714.4" cy="1338.3" r="7.7" fill="none" stroke="#EDB120" stroke-width="2.4"/>
<circle cx="714.4" cy="1329.6" r="7.7" fill="none" stroke="#EDB120" stroke-width="2.4"/>
<circle cx="714.4" cy="1326.1" r="7.7" fill="none" stroke="#EDB120" stroke-width="2.4"/>
<circle cx="714.4" cy="1324.3" r="7.7" fill="none" stroke="#EDB120" stroke-width="2.4"/>
<circle cx="714.4" cy="1317.3" r="7.7" fill="none" stroke="#EDB120" stroke-width="2.4"/>
<circle cx="714.4" cy="1284.0" r="7.7" fill="none" stroke="#EDB120" stroke-width="2.4"/>
<circle cx="714.4" cy="1261.2" r="7.7" fill="none" stroke="#EDB120" stroke-width="2.4"/>
<circle cx="714.4" cy="1124.6" r="7.7" fill="none" stroke="#EDB120" stroke-width="2.4"/>
<circle cx="714.4" cy="1054.5" r="7.7" fill="none" stroke="#EDB120" stroke-width="2.4"/>
<line x1="772.9" y1="1562.6" x2="772.9" y2="1534.5" stroke="#111" stroke-width="2.2"/>
<line x1="772.9" y1="1583.6" x2="772.9" y2="1599.3" stroke="#111" stroke-width="2.2"/>
<line x1="765.9" y1="1534.5" x2="779.9" y2="1534.5" stroke="#111" stroke-width="2.2"/>
<line x1="765.9" y1="1599.3" x2="779.9" y2="1599.3" stroke="#111" stroke-width="2.2"/>
<rect x="757.6" y="1562.6" width="30.5" height="21.0" fill="#e4d3e8" stroke="#7E2F8E" stroke-width="2.2"/>
<line x1="757.6" y1="1573.8" x2="788.1" y2="1573.8" stroke="#7E2F8E" stroke-width="2.2"/>
<circle cx="772.9" cy="1532.8" r="7.7" fill="none" stroke="#7E2F8E" stroke-width="2.4"/>
<circle cx="772.9" cy="1531.0" r="7.7" fill="none" stroke="#7E2F8E" stroke-width="2.4"/>
<circle cx="772.9" cy="1529.3" r="7.7" fill="none" stroke="#7E2F8E" stroke-width="2.4"/>
<circle cx="772.9" cy="1527.5" r="7.7" fill="none" stroke="#7E2F8E" stroke-width="2.4"/>
<circle cx="772.9" cy="1524.0" r="7.7" fill="none" stroke="#7E2F8E" stroke-width="2.4"/>
<circle cx="772.9" cy="1520.5" r="7.7" fill="none" stroke="#7E2F8E" stroke-width="2.4"/>
<circle cx="772.9" cy="1518.8" r="7.7" fill="none" stroke="#7E2F8E" stroke-width="2.4"/>
<circle cx="772.9" cy="1517.0" r="7.7" fill="none" stroke="#7E2F8E" stroke-width="2.4"/>
<circle cx="772.9" cy="1513.5" r="7.7" fill="none" stroke="#7E2F8E" stroke-width="2.4"/>
<circle cx="772.9" cy="1511.8" r="7.7" fill="none" stroke="#7E2F8E" stroke-width="2.4"/>
<circle cx="772.9" cy="1510.0" r="7.7" fill="none" stroke="#7E2F8E" stroke-width="2.4"/>
<circle cx="772.9" cy="1508.2" r="7.7" fill="none" stroke="#7E2F8E" stroke-width="2.4"/>
<circle cx="772.9" cy="1506.5" r="7.7" fill="none" stroke="#7E2F8E" stroke-width="2.4"/>
<circle cx="772.9" cy="1503.0" r="7.7" fill="none" stroke="#7E2F8E" stroke-width="2.4"/>
<circle cx="772.9" cy="1487.2" r="7.7" fill="none" stroke="#7E2F8E" stroke-width="2.4"/>
<line x1="831.5" y1="1524.0" x2="831.5" y2="1513.5" stroke="#111" stroke-width="2.2"/>
<line x1="831.5" y1="1552.0" x2="831.5" y2="1573.1" stroke="#111" stroke-width="2.2"/>
<line x1="824.5" y1="1513.5" x2="838.5" y2="1513.5" stroke="#111" stroke-width="2.2"/>
<line x1="824.5" y1="1573.1" x2="838.5" y2="1573.1" stroke="#111" stroke-width="2.2"/>
<rect x="816.2" y="1524.0" width="30.5" height="28.0" fill="#e0ecd5" stroke="#77AC30" stroke-width="2.2"/>
<line x1="816.2" y1="1531.0" x2="846.7" y2="1531.0" stroke="#77AC30" stroke-width="2.2"/>
<path d="M538.7 1044.0 V1604.6" fill="none" stroke="#262626" stroke-width="1.4"/>
<line x1="538.7" y1="1604.6" x2="544.2" y2="1604.6" stroke="#262626" stroke-width="1.4"/>
<line x1="538.7" y1="1534.5" x2="544.2" y2="1534.5" stroke="#262626" stroke-width="1.4"/>
<line x1="538.7" y1="1464.4" x2="544.2" y2="1464.4" stroke="#262626" stroke-width="1.4"/>
<line x1="538.7" y1="1394.4" x2="544.2" y2="1394.4" stroke="#262626" stroke-width="1.4"/>
<line x1="538.7" y1="1324.3" x2="544.2" y2="1324.3" stroke="#262626" stroke-width="1.4"/>
<line x1="538.7" y1="1254.2" x2="544.2" y2="1254.2" stroke="#262626" stroke-width="1.4"/>
<line x1="538.7" y1="1184.2" x2="544.2" y2="1184.2" stroke="#262626" stroke-width="1.4"/>
<line x1="538.7" y1="1114.1" x2="544.2" y2="1114.1" stroke="#262626" stroke-width="1.4"/>
<line x1="538.7" y1="1044.0" x2="544.2" y2="1044.0" stroke="#262626" stroke-width="1.4"/>
<text x="530.2" y="1615.1" font-size="25" text-anchor="end" fill="#000" style="font-family:'Liberation Sans', Arial, Helvetica, sans-serif">0</text>
<text x="530.2" y="1545.0" font-size="25" text-anchor="end" fill="#000" style="font-family:'Liberation Sans', Arial, Helvetica, sans-serif">2</text>
<text x="530.2" y="1474.9" font-size="25" text-anchor="end" fill="#000" style="font-family:'Liberation Sans', Arial, Helvetica, sans-serif">4</text>
<text x="530.2" y="1404.9" font-size="25" text-anchor="end" fill="#000" style="font-family:'Liberation Sans', Arial, Helvetica, sans-serif">6</text>
<text x="530.2" y="1334.8" font-size="25" text-anchor="end" fill="#000" style="font-family:'Liberation Sans', Arial, Helvetica, sans-serif">8</text>
<text x="530.2" y="1264.7" font-size="25" text-anchor="end" fill="#000" style="font-family:'Liberation Sans', Arial, Helvetica, sans-serif">10</text>
<text x="530.2" y="1194.7" font-size="25" text-anchor="end" fill="#000" style="font-family:'Liberation Sans', Arial, Helvetica, sans-serif">12</text>
<text x="530.2" y="1124.6" font-size="25" text-anchor="end" fill="#000" style="font-family:'Liberation Sans', Arial, Helvetica, sans-serif">14</text>
<text x="530.2" y="1054.5" font-size="25" text-anchor="end" fill="#000" style="font-family:'Liberation Sans', Arial, Helvetica, sans-serif">16</text>
<path d="M538.7 1604.6 H890.0" fill="none" stroke="#262626" stroke-width="1.4"/>
<line x1="597.2" y1="1604.6" x2="597.2" y2="1599.1" stroke="#262626" stroke-width="1.4"/>
<line x1="655.8" y1="1604.6" x2="655.8" y2="1599.1" stroke="#262626" stroke-width="1.4"/>
<line x1="714.4" y1="1604.6" x2="714.4" y2="1599.1" stroke="#262626" stroke-width="1.4"/>
<line x1="772.9" y1="1604.6" x2="772.9" y2="1599.1" stroke="#262626" stroke-width="1.4"/>
<line x1="831.5" y1="1604.6" x2="831.5" y2="1599.1" stroke="#262626" stroke-width="1.4"/>
<text transform="translate(609.2,1635.0) rotate(-30)" font-size="24" text-anchor="end" style="font-family:'Liberation Sans', Arial, Helvetica, sans-serif">DHN</text>
<text transform="translate(667.8,1635.0) rotate(-30)" font-size="24" text-anchor="end" style="font-family:'Liberation Sans', Arial, Helvetica, sans-serif">NN</text>
<text transform="translate(726.4,1635.0) rotate(-30)" font-size="24" text-anchor="end" style="font-family:'Liberation Sans', Arial, Helvetica, sans-serif">SA</text>
<text transform="translate(784.9,1635.0) rotate(-30)" font-size="24" text-anchor="end" style="font-family:'Liberation Sans', Arial, Helvetica, sans-serif">TAC</text>
<text transform="translate(843.5,1635.0) rotate(-30)" font-size="24" text-anchor="end" style="font-family:'Liberation Sans', Arial, Helvetica, sans-serif">TAC &amp; NN</text>
<text x="713" y="1725" font-size="26" text-anchor="middle" style="font-family:'Liberation Sans', Arial, Helvetica, sans-serif">Artificial ligand</text>
<text transform="translate(492.5,1324.2) rotate(-90)" font-size="25.8" text-anchor="middle" style="font-family:'Liberation Sans', Arial, Helvetica, sans-serif">Lt (nM Eq Fe)</text>
<text x="468" y="1024" font-size="31" font-weight="bold" style="font-family:'Liberation Sans', Arial, Helvetica, sans-serif">C</text>
<line x1="1063.8" y1="1401.3" x2="1063.8" y2="1340.4" stroke="#111" stroke-width="2.2"/>
<line x1="1063.8" y1="1458.1" x2="1063.8" y2="1504.5" stroke="#111" stroke-width="2.2"/>
<line x1="1056.8" y1="1340.4" x2="1070.8" y2="1340.4" stroke="#111" stroke-width="2.2"/>
<line x1="1056.8" y1="1504.5" x2="1070.8" y2="1504.5" stroke="#111" stroke-width="2.2"/>
<rect x="1048.6" y="1401.3" width="30.5" height="56.8" fill="#cfe3f2" stroke="#0072BD" stroke-width="2.2"/>
<line x1="1048.6" y1="1430.9" x2="1079.1" y2="1430.9" stroke="#0072BD" stroke-width="2.2"/>
<circle cx="1063.8" cy="1316.4" r="7.7" fill="none" stroke="#0072BD" stroke-width="2.4"/>
<line x1="1122.3" y1="1428.5" x2="1122.3" y2="1364.4" stroke="#111" stroke-width="2.2"/>
<line x1="1122.3" y1="1476.5" x2="1122.3" y2="1530.9" stroke="#111" stroke-width="2.2"/>
<line x1="1115.3" y1="1364.4" x2="1129.3" y2="1364.4" stroke="#111" stroke-width="2.2"/>
<line x1="1115.3" y1="1530.9" x2="1129.3" y2="1530.9" stroke="#111" stroke-width="2.2"/>
<rect x="1107.0" y="1428.5" width="30.5" height="48.0" fill="#f7d9cc" stroke="#D95319" stroke-width="2.2"/>
<line x1="1107.0" y1="1452.5" x2="1137.5" y2="1452.5" stroke="#D95319" stroke-width="2.2"/>
<line x1="1180.7" y1="1481.3" x2="1180.7" y2="1415.7" stroke="#111" stroke-width="2.2"/>
<line x1="1180.7" y1="1533.7" x2="1180.7" y2="1591.0" stroke="#111" stroke-width="2.2"/>
<line x1="1173.7" y1="1415.7" x2="1187.7" y2="1415.7" stroke="#111" stroke-width="2.2"/>
<line x1="1173.7" y1="1591.0" x2="1187.7" y2="1591.0" stroke="#111" stroke-width="2.2"/>
<rect x="1165.5" y="1481.3" width="30.5" height="52.4" fill="#fbefd2" stroke="#EDB120" stroke-width="2.2"/>
<line x1="1165.5" y1="1505.7" x2="1196.0" y2="1505.7" stroke="#EDB120" stroke-width="2.2"/>
<line x1="1239.1" y1="1392.0" x2="1239.1" y2="1299.6" stroke="#111" stroke-width="2.2"/>
<line x1="1239.1" y1="1456.1" x2="1239.1" y2="1550.2" stroke="#111" stroke-width="2.2"/>
<line x1="1232.1" y1="1299.6" x2="1246.1" y2="1299.6" stroke="#111" stroke-width="2.2"/>
<line x1="1232.1" y1="1550.2" x2="1246.1" y2="1550.2" stroke="#111" stroke-width="2.2"/>
<rect x="1223.9" y="1392.0" width="30.5" height="64.0" fill="#e4d3e8" stroke="#7E2F8E" stroke-width="2.2"/>
<line x1="1223.9" y1="1426.1" x2="1254.4" y2="1426.1" stroke="#7E2F8E" stroke-width="2.2"/>
<circle cx="1239.1" cy="1297.2" r="7.7" fill="none" stroke="#7E2F8E" stroke-width="2.4"/>
<circle cx="1239.1" cy="1294.0" r="7.7" fill="none" stroke="#7E2F8E" stroke-width="2.4"/>
<circle cx="1239.1" cy="1290.8" r="7.7" fill="none" stroke="#7E2F8E" stroke-width="2.4"/>
<circle cx="1239.1" cy="1287.6" r="7.7" fill="none" stroke="#7E2F8E" stroke-width="2.4"/>
<circle cx="1239.1" cy="1284.4" r="7.7" fill="none" stroke="#7E2F8E" stroke-width="2.4"/>
<circle cx="1239.1" cy="1260.4" r="7.7" fill="none" stroke="#7E2F8E" stroke-width="2.4"/>
<circle cx="1239.1" cy="1253.5" r="7.7" fill="none" stroke="#7E2F8E" stroke-width="2.4"/>
<circle cx="1239.1" cy="1248.3" r="7.7" fill="none" stroke="#7E2F8E" stroke-width="2.4"/>
<circle cx="1239.1" cy="1210.7" r="7.7" fill="none" stroke="#7E2F8E" stroke-width="2.4"/>
<circle cx="1239.1" cy="1204.7" r="7.7" fill="none" stroke="#7E2F8E" stroke-width="2.4"/>
<circle cx="1239.1" cy="1184.3" r="7.7" fill="none" stroke="#7E2F8E" stroke-width="2.4"/>
<circle cx="1239.1" cy="1162.7" r="7.7" fill="none" stroke="#7E2F8E" stroke-width="2.4"/>
<circle cx="1239.1" cy="1157.5" r="7.7" fill="none" stroke="#7E2F8E" stroke-width="2.4"/>
<circle cx="1239.1" cy="1131.1" r="7.7" fill="none" stroke="#7E2F8E" stroke-width="2.4"/>
<circle cx="1239.1" cy="1054.6" r="7.7" fill="none" stroke="#7E2F8E" stroke-width="2.4"/>
<circle cx="1239.1" cy="1555.0" r="7.7" fill="none" stroke="#7E2F8E" stroke-width="2.4"/>
<circle cx="1239.1" cy="1560.6" r="7.7" fill="none" stroke="#7E2F8E" stroke-width="2.4"/>
<circle cx="1239.1" cy="1564.6" r="7.7" fill="none" stroke="#7E2F8E" stroke-width="2.4"/>
<circle cx="1239.1" cy="1568.6" r="7.7" fill="none" stroke="#7E2F8E" stroke-width="2.4"/>
<circle cx="1239.1" cy="1572.6" r="7.7" fill="none" stroke="#7E2F8E" stroke-width="2.4"/>
<circle cx="1239.1" cy="1576.6" r="7.7" fill="none" stroke="#7E2F8E" stroke-width="2.4"/>
<circle cx="1239.1" cy="1580.6" r="7.7" fill="none" stroke="#7E2F8E" stroke-width="2.4"/>
<circle cx="1239.1" cy="1584.6" r="7.7" fill="none" stroke="#7E2F8E" stroke-width="2.4"/>
<circle cx="1239.1" cy="1587.0" r="7.7" fill="none" stroke="#7E2F8E" stroke-width="2.4"/>
<line x1="1297.6" y1="1338.3" x2="1297.6" y2="1324.4" stroke="#111" stroke-width="2.2"/>
<line x1="1297.6" y1="1438.9" x2="1297.6" y2="1492.5" stroke="#111" stroke-width="2.2"/>
<line x1="1290.6" y1="1324.4" x2="1304.6" y2="1324.4" stroke="#111" stroke-width="2.2"/>
<line x1="1290.6" y1="1492.5" x2="1304.6" y2="1492.5" stroke="#111" stroke-width="2.2"/>
<rect x="1282.3" y="1338.3" width="30.5" height="100.6" fill="#e0ecd5" stroke="#77AC30" stroke-width="2.2"/>
<line x1="1282.3" y1="1356.4" x2="1312.8" y2="1356.4" stroke="#77AC30" stroke-width="2.2"/>
<path d="M1005.4 1044.2 V1604.6" fill="none" stroke="#262626" stroke-width="1.4"/>
<line x1="1005.4" y1="1604.6" x2="1010.9" y2="1604.6" stroke="#262626" stroke-width="1.4"/>
<line x1="1005.4" y1="1524.5" x2="1010.9" y2="1524.5" stroke="#262626" stroke-width="1.4"/>
<line x1="1005.4" y1="1444.5" x2="1010.9" y2="1444.5" stroke="#262626" stroke-width="1.4"/>
<line x1="1005.4" y1="1364.4" x2="1010.9" y2="1364.4" stroke="#262626" stroke-width="1.4"/>
<line x1="1005.4" y1="1284.4" x2="1010.9" y2="1284.4" stroke="#262626" stroke-width="1.4"/>
<line x1="1005.4" y1="1204.3" x2="1010.9" y2="1204.3" stroke="#262626" stroke-width="1.4"/>
<line x1="1005.4" y1="1124.3" x2="1010.9" y2="1124.3" stroke="#262626" stroke-width="1.4"/>
<line x1="1005.4" y1="1044.2" x2="1010.9" y2="1044.2" stroke="#262626" stroke-width="1.4"/>
<text x="996.9" y="1615.1" font-size="25" text-anchor="end" fill="#000" style="font-family:'Liberation Sans', Arial, Helvetica, sans-serif">20</text>
<text x="996.9" y="1535.0" font-size="25" text-anchor="end" fill="#000" style="font-family:'Liberation Sans', Arial, Helvetica, sans-serif">21</text>
<text x="996.9" y="1455.0" font-size="25" text-anchor="end" fill="#000" style="font-family:'Liberation Sans', Arial, Helvetica, sans-serif">22</text>
<text x="996.9" y="1374.9" font-size="25" text-anchor="end" fill="#000" style="font-family:'Liberation Sans', Arial, Helvetica, sans-serif">23</text>
<text x="996.9" y="1294.9" font-size="25" text-anchor="end" fill="#000" style="font-family:'Liberation Sans', Arial, Helvetica, sans-serif">24</text>
<text x="996.9" y="1214.8" font-size="25" text-anchor="end" fill="#000" style="font-family:'Liberation Sans', Arial, Helvetica, sans-serif">25</text>
<text x="996.9" y="1134.8" font-size="25" text-anchor="end" fill="#000" style="font-family:'Liberation Sans', Arial, Helvetica, sans-serif">26</text>
<text x="996.9" y="1054.7" font-size="25" text-anchor="end" fill="#000" style="font-family:'Liberation Sans', Arial, Helvetica, sans-serif">27</text>
<path d="M1005.4 1604.6 H1356.0" fill="none" stroke="#262626" stroke-width="1.4"/>
<line x1="1063.8" y1="1604.6" x2="1063.8" y2="1599.1" stroke="#262626" stroke-width="1.4"/>
<line x1="1122.3" y1="1604.6" x2="1122.3" y2="1599.1" stroke="#262626" stroke-width="1.4"/>
<line x1="1180.7" y1="1604.6" x2="1180.7" y2="1599.1" stroke="#262626" stroke-width="1.4"/>
<line x1="1239.1" y1="1604.6" x2="1239.1" y2="1599.1" stroke="#262626" stroke-width="1.4"/>
<line x1="1297.6" y1="1604.6" x2="1297.6" y2="1599.1" stroke="#262626" stroke-width="1.4"/>
<text transform="translate(1075.8,1635.0) rotate(-30)" font-size="24" text-anchor="end" style="font-family:'Liberation Sans', Arial, Helvetica, sans-serif">DHN</text>
<text transform="translate(1134.3,1635.0) rotate(-30)" font-size="24" text-anchor="end" style="font-family:'Liberation Sans', Arial, Helvetica, sans-serif">NN</text>
<text transform="translate(1192.7,1635.0) rotate(-30)" font-size="24" text-anchor="end" style="font-family:'Liberation Sans', Arial, Helvetica, sans-serif">SA</text>
<text transform="translate(1251.1,1635.0) rotate(-30)" font-size="24" text-anchor="end" style="font-family:'Liberation Sans', Arial, Helvetica, sans-serif">TAC</text>
<text transform="translate(1309.6,1635.0) rotate(-30)" font-size="24" text-anchor="end" style="font-family:'Liberation Sans', Arial, Helvetica, sans-serif">TAC &amp; NN</text>
<text x="1179" y="1724" font-size="26" text-anchor="middle" style="font-family:'Liberation Sans', Arial, Helvetica, sans-serif">Artificial ligand</text>
<text transform="translate(947.5,1322.6) rotate(-90)" font-size="25.5" text-anchor="middle" style="font-family:'Liberation Sans', Arial, Helvetica, sans-serif">Log K<tspan font-size="22" dy="12">FeL</tspan></text>
<text x="922.3" y="1024" font-size="31" font-weight="bold" style="font-family:'Liberation Sans', Arial, Helvetica, sans-serif">D</text>
</svg></body></html>
